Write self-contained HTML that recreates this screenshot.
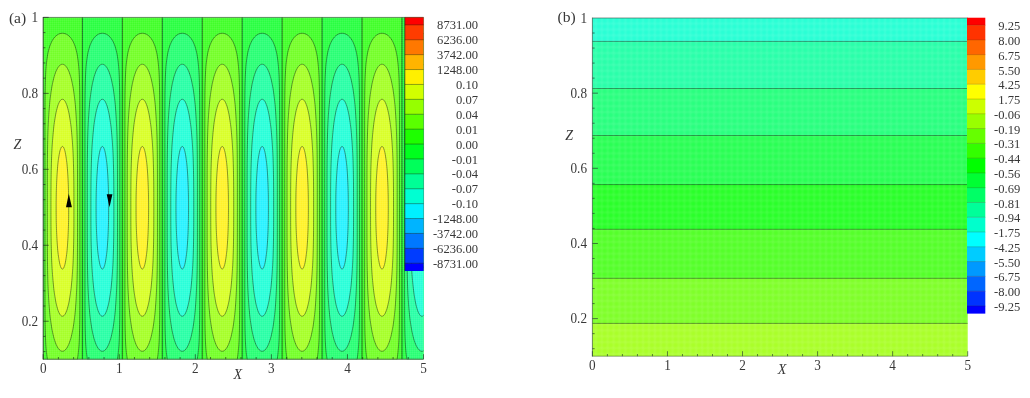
<!DOCTYPE html>
<html lang="en"><head><meta charset="utf-8"><title>Contour plots (a) and (b)</title>
<style>html,body{margin:0;padding:0;background:#fff;}body{width:1030px;height:398px;overflow:hidden;}svg{display:block;}text{font-family:"Liberation Serif", "DejaVu Serif", serif;fill:#383838;}</style></head><body>
<svg width="1030" height="398" viewBox="0 0 1030 398">
<rect x="0" y="0" width="1030" height="398" fill="#ffffff"/>
<defs>
<pattern id="meshA" width="2" height="2" patternUnits="userSpaceOnUse"><rect x="0" y="0" width="2" height="1" fill="#ffffff" fill-opacity="0.06"/><rect x="0" y="0" width="1" height="2" fill="#ffffff" fill-opacity="0.06"/></pattern>
<radialGradient id="dotB" cx="0.5" cy="0.5" r="0.72"><stop offset="0" stop-color="#ffffff" stop-opacity="0"/><stop offset="0.35" stop-color="#ffffff" stop-opacity="0.02"/><stop offset="1" stop-color="#ffffff" stop-opacity="0.15"/></radialGradient>
<pattern id="meshB" width="5.9" height="5.9" patternUnits="userSpaceOnUse"><rect x="0" y="0" width="5.9" height="5.9" fill="url(#dotB)"/></pattern>
<clipPath id="clipA"><rect x="43.20" y="17.40" width="380.30" height="341.80"/></clipPath>
<clipPath id="clipB"><rect x="592.40" y="18.00" width="375.30" height="338.20"/></clipPath>
</defs>
<g clip-path="url(#clipA)">
<rect x="41.95" y="16.40" width="40.95" height="343.80" fill="#41ff28"/>
<path d="M62.43,33.25L63.76,33.36L65.08,33.68L66.38,34.21L67.65,34.95L68.88,35.90L70.05,37.06L71.17,38.43L72.23,40.01L73.21,41.79L74.13,43.77L74.96,45.96L75.72,48.34L76.40,50.91L77.00,53.68L77.52,56.63L77.98,59.77L78.37,63.08L78.69,66.58L78.97,70.24L79.19,74.08L79.36,78.07L79.50,82.23L79.61,86.53L79.69,90.99L79.75,95.58L79.79,100.32L79.82,105.18L79.84,110.17L79.86,115.28L79.86,120.50L79.87,125.83L79.87,131.25L79.87,136.77L79.87,142.38L79.87,148.07L79.87,153.83L79.87,159.65L79.87,165.53L79.87,171.47L79.87,177.45L79.87,183.46L79.87,189.51L79.87,195.58L79.87,201.66L79.88,207.75L79.87,213.84L79.87,219.92L79.87,225.99L79.87,232.04L79.87,238.05L79.87,244.03L79.87,249.97L79.87,255.85L79.87,261.67L79.87,267.43L79.87,273.12L79.87,278.73L79.87,284.25L79.87,289.67L79.86,295.00L79.86,300.22L79.84,305.33L79.82,310.32L79.79,315.18L79.75,319.92L79.69,324.51L79.61,328.97L79.50,333.27L79.36,337.43L79.19,341.42L78.97,345.26L78.69,348.92L78.37,352.42L77.98,355.73L77.52,358.87L77.00,361.82L76.40,364.59L75.72,367.16L74.96,369.54L74.13,371.73L73.21,373.71L72.23,375.49L71.17,377.07L70.05,378.44L68.88,379.60L67.65,380.55L66.38,381.29L65.08,381.82L63.76,382.14L62.43,382.25L62.43,382.25L61.09,382.14L59.77,381.82L58.47,381.29L57.20,380.55L55.97,379.60L54.80,378.44L53.68,377.07L52.62,375.49L51.64,373.71L50.72,371.73L49.89,369.54L49.13,367.16L48.45,364.59L47.85,361.82L47.33,358.87L46.87,355.73L46.48,352.42L46.16,348.92L45.88,345.26L45.66,341.42L45.49,337.43L45.35,333.27L45.24,328.97L45.16,324.51L45.10,319.92L45.06,315.18L45.03,310.32L45.01,305.33L44.99,300.22L44.99,295.00L44.98,289.67L44.98,284.25L44.98,278.73L44.98,273.12L44.98,267.43L44.98,261.67L44.98,255.85L44.98,249.97L44.98,244.03L44.98,238.05L44.98,232.04L44.98,225.99L44.98,219.92L44.98,213.84L44.98,207.75L44.98,201.66L44.98,195.58L44.98,189.51L44.98,183.46L44.98,177.45L44.98,171.47L44.98,165.53L44.98,159.65L44.98,153.83L44.98,148.07L44.98,142.38L44.98,136.77L44.98,131.25L44.98,125.83L44.99,120.50L44.99,115.28L45.01,110.17L45.03,105.18L45.06,100.32L45.10,95.58L45.16,90.99L45.24,86.53L45.35,82.23L45.49,78.07L45.66,74.08L45.88,70.24L46.16,66.58L46.48,63.08L46.87,59.77L47.33,56.63L47.85,53.68L48.45,50.91L49.13,48.34L49.89,45.96L50.72,43.77L51.64,41.79L52.62,40.01L53.68,38.43L54.80,37.06L55.97,35.90L57.20,34.95L58.47,34.21L59.77,33.68L61.09,33.36L62.43,33.25Z" fill="#74ff28" stroke="#001800" stroke-opacity="0.52" stroke-width="0.90"/>
<path d="M62.43,64.25L63.16,64.34L63.89,64.60L64.62,65.04L65.35,65.65L66.06,66.43L66.76,67.39L67.45,68.51L68.13,69.81L68.79,71.27L69.43,72.90L70.06,74.70L70.66,76.66L71.24,78.77L71.79,81.05L72.32,83.48L72.82,86.06L73.30,88.78L73.75,91.66L74.17,94.67L74.56,97.82L74.93,101.11L75.27,104.52L75.58,108.07L75.86,111.73L76.11,115.51L76.34,119.40L76.54,123.40L76.72,127.51L76.88,131.71L77.01,136.00L77.12,140.38L77.22,144.84L77.30,149.38L77.36,153.99L77.41,158.67L77.45,163.41L77.48,168.20L77.50,173.03L77.51,177.91L77.52,182.83L77.52,187.78L77.52,192.75L77.52,197.74L77.52,202.74L77.53,207.75L77.52,212.76L77.52,217.76L77.52,222.75L77.52,227.72L77.52,232.67L77.51,237.59L77.50,242.47L77.48,247.30L77.45,252.09L77.41,256.83L77.36,261.51L77.30,266.12L77.22,270.66L77.12,275.12L77.01,279.50L76.88,283.79L76.72,287.99L76.54,292.10L76.34,296.10L76.11,299.99L75.86,303.77L75.58,307.43L75.27,310.98L74.93,314.39L74.56,317.68L74.17,320.83L73.75,323.84L73.30,326.72L72.82,329.44L72.32,332.02L71.79,334.45L71.24,336.73L70.66,338.84L70.06,340.80L69.43,342.60L68.79,344.23L68.13,345.69L67.45,346.99L66.76,348.11L66.06,349.07L65.35,349.85L64.62,350.46L63.89,350.90L63.16,351.16L62.43,351.25L62.43,351.25L61.69,351.16L60.96,350.90L60.23,350.46L59.50,349.85L58.79,349.07L58.09,348.11L57.40,346.99L56.72,345.69L56.06,344.23L55.42,342.60L54.79,340.80L54.19,338.84L53.61,336.73L53.06,334.45L52.53,332.02L52.03,329.44L51.55,326.72L51.10,323.84L50.68,320.83L50.29,317.68L49.92,314.39L49.58,310.98L49.27,307.43L48.99,303.77L48.74,299.99L48.51,296.10L48.31,292.10L48.13,287.99L47.97,283.79L47.84,279.50L47.73,275.12L47.63,270.66L47.55,266.12L47.49,261.51L47.44,256.83L47.40,252.09L47.37,247.30L47.35,242.47L47.34,237.59L47.33,232.67L47.33,227.72L47.33,222.75L47.33,217.76L47.33,212.76L47.33,207.75L47.33,202.74L47.33,197.74L47.33,192.75L47.33,187.78L47.33,182.83L47.34,177.91L47.35,173.03L47.37,168.20L47.40,163.41L47.44,158.67L47.49,153.99L47.55,149.38L47.63,144.84L47.73,140.38L47.84,136.00L47.97,131.71L48.13,127.51L48.31,123.40L48.51,119.40L48.74,115.51L48.99,111.73L49.27,108.07L49.58,104.52L49.92,101.11L50.29,97.82L50.68,94.67L51.10,91.66L51.55,88.78L52.03,86.06L52.53,83.48L53.06,81.05L53.61,78.77L54.19,76.66L54.79,74.70L55.42,72.90L56.06,71.27L56.72,69.81L57.40,68.51L58.09,67.39L58.79,66.43L59.50,65.65L60.23,65.04L60.96,64.60L61.69,64.34L62.43,64.25Z" fill="#a6ff28" stroke="#001800" stroke-opacity="0.52" stroke-width="0.90"/>
<path d="M62.43,99.25L62.90,99.32L63.37,99.51L63.85,99.84L64.32,100.31L64.78,100.90L65.24,101.62L65.70,102.47L66.15,103.45L66.59,104.56L67.02,105.79L67.45,107.15L67.86,108.63L68.27,110.23L68.66,111.95L69.05,113.79L69.42,115.74L69.77,117.80L70.12,119.97L70.45,122.25L70.76,124.63L71.07,127.12L71.35,129.70L71.62,132.38L71.88,135.15L72.11,138.01L72.34,140.95L72.54,143.98L72.73,147.08L72.91,150.25L73.07,153.50L73.21,156.81L73.34,160.19L73.45,163.62L73.55,167.11L73.64,170.64L73.71,174.22L73.77,177.84L73.82,181.50L73.85,185.19L73.88,188.91L73.90,192.65L73.91,196.41L73.92,200.18L73.92,203.96L73.93,207.75L73.92,211.54L73.92,215.32L73.91,219.09L73.90,222.85L73.88,226.59L73.85,230.31L73.82,234.00L73.77,237.66L73.71,241.28L73.64,244.86L73.55,248.39L73.45,251.88L73.34,255.31L73.21,258.69L73.07,262.00L72.91,265.25L72.73,268.42L72.54,271.52L72.34,274.55L72.11,277.49L71.88,280.35L71.62,283.12L71.35,285.80L71.07,288.38L70.76,290.87L70.45,293.25L70.12,295.53L69.77,297.70L69.42,299.76L69.05,301.71L68.66,303.55L68.27,305.27L67.86,306.87L67.45,308.35L67.02,309.71L66.59,310.94L66.15,312.05L65.70,313.03L65.24,313.88L64.78,314.60L64.32,315.19L63.85,315.66L63.37,315.99L62.90,316.18L62.43,316.25L62.43,316.25L61.95,316.18L61.48,315.99L61.00,315.66L60.53,315.19L60.07,314.60L59.61,313.88L59.15,313.03L58.70,312.05L58.26,310.94L57.83,309.71L57.40,308.35L56.99,306.87L56.58,305.27L56.19,303.55L55.80,301.71L55.43,299.76L55.08,297.70L54.73,295.53L54.40,293.25L54.09,290.87L53.78,288.38L53.50,285.80L53.23,283.12L52.97,280.35L52.74,277.49L52.51,274.55L52.31,271.52L52.12,268.42L51.94,265.25L51.78,262.00L51.64,258.69L51.51,255.31L51.40,251.88L51.30,248.39L51.21,244.86L51.14,241.28L51.08,237.66L51.03,234.00L51.00,230.31L50.97,226.59L50.95,222.85L50.94,219.09L50.93,215.32L50.93,211.54L50.93,207.75L50.93,203.96L50.93,200.18L50.94,196.41L50.95,192.65L50.97,188.91L51.00,185.19L51.03,181.50L51.08,177.84L51.14,174.22L51.21,170.64L51.30,167.11L51.40,163.62L51.51,160.19L51.64,156.81L51.78,153.50L51.94,150.25L52.12,147.08L52.31,143.98L52.51,140.95L52.74,138.01L52.97,135.15L53.23,132.38L53.50,129.70L53.78,127.12L54.09,124.63L54.40,122.25L54.73,119.97L55.08,117.80L55.43,115.74L55.80,113.79L56.19,111.95L56.58,110.23L56.99,108.63L57.40,107.15L57.83,105.79L58.26,104.56L58.70,103.45L59.15,102.47L59.61,101.62L60.07,100.90L60.53,100.31L61.00,99.84L61.48,99.51L61.95,99.32L62.43,99.25Z" fill="#d9ff28" stroke="#001800" stroke-opacity="0.52" stroke-width="0.90"/>
<path d="M62.43,146.45L62.65,146.49L62.88,146.60L63.11,146.79L63.34,147.05L63.56,147.38L63.79,147.79L64.01,148.27L64.23,148.82L64.45,149.45L64.66,150.15L64.87,150.91L65.08,151.75L65.28,152.65L65.48,153.63L65.68,154.66L65.87,155.76L66.06,156.93L66.24,158.16L66.42,159.44L66.59,160.79L66.75,162.20L66.91,163.65L67.07,165.17L67.21,166.73L67.35,168.35L67.49,170.01L67.61,171.72L67.73,173.47L67.85,175.27L67.95,177.10L68.05,178.97L68.14,180.88L68.23,182.82L68.30,184.79L68.37,186.78L68.43,188.81L68.49,190.85L68.54,192.92L68.58,195.01L68.61,197.11L68.63,199.22L68.65,201.34L68.67,203.47L68.67,205.61L68.68,207.75L68.67,209.89L68.67,212.03L68.65,214.16L68.63,216.28L68.61,218.39L68.58,220.49L68.54,222.58L68.49,224.65L68.43,226.69L68.37,228.72L68.30,230.71L68.23,232.68L68.14,234.62L68.05,236.53L67.95,238.40L67.85,240.23L67.73,242.03L67.61,243.78L67.49,245.49L67.35,247.15L67.21,248.77L67.07,250.33L66.91,251.85L66.75,253.30L66.59,254.71L66.42,256.06L66.24,257.34L66.06,258.57L65.87,259.74L65.68,260.84L65.48,261.87L65.28,262.85L65.08,263.75L64.87,264.59L64.66,265.35L64.45,266.05L64.23,266.68L64.01,267.23L63.79,267.71L63.56,268.12L63.34,268.45L63.11,268.71L62.88,268.90L62.65,269.01L62.43,269.05L62.43,269.05L62.20,269.01L61.97,268.90L61.74,268.71L61.51,268.45L61.29,268.12L61.06,267.71L60.84,267.23L60.62,266.68L60.40,266.05L60.19,265.35L59.98,264.59L59.77,263.75L59.57,262.85L59.37,261.87L59.17,260.84L58.98,259.74L58.79,258.57L58.61,257.34L58.43,256.06L58.26,254.71L58.10,253.30L57.94,251.85L57.78,250.33L57.64,248.77L57.50,247.15L57.36,245.49L57.24,243.78L57.12,242.03L57.00,240.23L56.90,238.40L56.80,236.53L56.71,234.62L56.62,232.68L56.55,230.71L56.48,228.72L56.42,226.69L56.36,224.65L56.31,222.58L56.27,220.49L56.24,218.39L56.22,216.28L56.20,214.16L56.18,212.03L56.18,209.89L56.18,207.75L56.18,205.61L56.18,203.47L56.20,201.34L56.22,199.22L56.24,197.11L56.27,195.01L56.31,192.92L56.36,190.85L56.42,188.81L56.48,186.78L56.55,184.79L56.62,182.82L56.71,180.88L56.80,178.97L56.90,177.10L57.00,175.27L57.12,173.47L57.24,171.72L57.36,170.01L57.50,168.35L57.64,166.73L57.78,165.17L57.94,163.65L58.10,162.20L58.26,160.79L58.43,159.44L58.61,158.16L58.79,156.93L58.98,155.76L59.17,154.66L59.37,153.63L59.57,152.65L59.77,151.75L59.98,150.91L60.19,150.15L60.40,149.45L60.62,148.82L60.84,148.27L61.06,147.79L61.29,147.38L61.51,147.05L61.74,146.79L61.97,146.60L62.20,146.49L62.43,146.45Z" fill="#fff228" stroke="#001800" stroke-opacity="0.52" stroke-width="0.90"/>
<rect x="81.90" y="16.40" width="40.95" height="343.80" fill="#28ff41"/>
<path d="M102.38,33.25L103.71,33.36L105.03,33.68L106.33,34.21L107.60,34.95L108.83,35.90L110.00,37.06L111.12,38.43L112.18,40.01L113.16,41.79L114.08,43.77L114.91,45.96L115.67,48.34L116.35,50.91L116.95,53.68L117.47,56.63L117.93,59.77L118.32,63.08L118.64,66.58L118.92,70.24L119.14,74.08L119.31,78.07L119.45,82.23L119.56,86.53L119.64,90.99L119.70,95.58L119.74,100.32L119.77,105.18L119.79,110.17L119.81,115.28L119.81,120.50L119.82,125.83L119.82,131.25L119.82,136.77L119.82,142.38L119.82,148.07L119.82,153.83L119.82,159.65L119.82,165.53L119.82,171.47L119.82,177.45L119.82,183.46L119.82,189.51L119.82,195.58L119.82,201.66L119.83,207.75L119.82,213.84L119.82,219.92L119.82,225.99L119.82,232.04L119.82,238.05L119.82,244.03L119.82,249.97L119.82,255.85L119.82,261.67L119.82,267.43L119.82,273.12L119.82,278.73L119.82,284.25L119.82,289.67L119.81,295.00L119.81,300.22L119.79,305.33L119.77,310.32L119.74,315.18L119.70,319.92L119.64,324.51L119.56,328.97L119.45,333.27L119.31,337.43L119.14,341.42L118.92,345.26L118.64,348.92L118.32,352.42L117.93,355.73L117.47,358.87L116.95,361.82L116.35,364.59L115.67,367.16L114.91,369.54L114.08,371.73L113.16,373.71L112.18,375.49L111.12,377.07L110.00,378.44L108.83,379.60L107.60,380.55L106.33,381.29L105.03,381.82L103.71,382.14L102.38,382.25L102.38,382.25L101.04,382.14L99.72,381.82L98.42,381.29L97.15,380.55L95.92,379.60L94.75,378.44L93.63,377.07L92.57,375.49L91.59,373.71L90.67,371.73L89.84,369.54L89.08,367.16L88.40,364.59L87.80,361.82L87.28,358.87L86.82,355.73L86.43,352.42L86.11,348.92L85.83,345.26L85.61,341.42L85.44,337.43L85.30,333.27L85.19,328.97L85.11,324.51L85.05,319.92L85.01,315.18L84.98,310.32L84.96,305.33L84.94,300.22L84.94,295.00L84.93,289.67L84.93,284.25L84.93,278.73L84.93,273.12L84.93,267.43L84.93,261.67L84.93,255.85L84.93,249.97L84.93,244.03L84.93,238.05L84.93,232.04L84.93,225.99L84.93,219.92L84.93,213.84L84.92,207.75L84.93,201.66L84.93,195.58L84.93,189.51L84.93,183.46L84.93,177.45L84.93,171.47L84.93,165.53L84.93,159.65L84.93,153.83L84.93,148.07L84.93,142.38L84.93,136.77L84.93,131.25L84.93,125.83L84.94,120.50L84.94,115.28L84.96,110.17L84.98,105.18L85.01,100.32L85.05,95.58L85.11,90.99L85.19,86.53L85.30,82.23L85.44,78.07L85.61,74.08L85.83,70.24L86.11,66.58L86.43,63.08L86.82,59.77L87.28,56.63L87.80,53.68L88.40,50.91L89.08,48.34L89.84,45.96L90.67,43.77L91.59,41.79L92.57,40.01L93.63,38.43L94.75,37.06L95.92,35.90L97.15,34.95L98.42,34.21L99.72,33.68L101.04,33.36L102.38,33.25Z" fill="#28ff74" stroke="#001800" stroke-opacity="0.52" stroke-width="0.90"/>
<path d="M102.38,64.25L103.11,64.34L103.84,64.60L104.57,65.04L105.30,65.65L106.01,66.43L106.71,67.39L107.40,68.51L108.08,69.81L108.74,71.27L109.38,72.90L110.01,74.70L110.61,76.66L111.19,78.77L111.74,81.05L112.27,83.48L112.77,86.06L113.25,88.78L113.70,91.66L114.12,94.67L114.51,97.82L114.88,101.11L115.22,104.52L115.53,108.07L115.81,111.73L116.06,115.51L116.29,119.40L116.49,123.40L116.67,127.51L116.83,131.71L116.96,136.00L117.07,140.38L117.17,144.84L117.25,149.38L117.31,153.99L117.36,158.67L117.40,163.41L117.43,168.20L117.45,173.03L117.46,177.91L117.47,182.83L117.47,187.78L117.47,192.75L117.47,197.74L117.47,202.74L117.47,207.75L117.47,212.76L117.47,217.76L117.47,222.75L117.47,227.72L117.47,232.67L117.46,237.59L117.45,242.47L117.43,247.30L117.40,252.09L117.36,256.83L117.31,261.51L117.25,266.12L117.17,270.66L117.07,275.12L116.96,279.50L116.83,283.79L116.67,287.99L116.49,292.10L116.29,296.10L116.06,299.99L115.81,303.77L115.53,307.43L115.22,310.98L114.88,314.39L114.51,317.68L114.12,320.83L113.70,323.84L113.25,326.72L112.77,329.44L112.27,332.02L111.74,334.45L111.19,336.73L110.61,338.84L110.01,340.80L109.38,342.60L108.74,344.23L108.08,345.69L107.40,346.99L106.71,348.11L106.01,349.07L105.30,349.85L104.57,350.46L103.84,350.90L103.11,351.16L102.38,351.25L102.38,351.25L101.64,351.16L100.91,350.90L100.18,350.46L99.45,349.85L98.74,349.07L98.04,348.11L97.35,346.99L96.67,345.69L96.01,344.23L95.37,342.60L94.74,340.80L94.14,338.84L93.56,336.73L93.01,334.45L92.48,332.02L91.98,329.44L91.50,326.72L91.05,323.84L90.63,320.83L90.24,317.68L89.87,314.39L89.53,310.98L89.22,307.43L88.94,303.77L88.69,299.99L88.46,296.10L88.26,292.10L88.08,287.99L87.92,283.79L87.79,279.50L87.68,275.12L87.58,270.66L87.50,266.12L87.44,261.51L87.39,256.83L87.35,252.09L87.32,247.30L87.30,242.47L87.29,237.59L87.28,232.67L87.28,227.72L87.28,222.75L87.28,217.76L87.28,212.76L87.28,207.75L87.28,202.74L87.28,197.74L87.28,192.75L87.28,187.78L87.28,182.83L87.29,177.91L87.30,173.03L87.32,168.20L87.35,163.41L87.39,158.67L87.44,153.99L87.50,149.38L87.58,144.84L87.68,140.38L87.79,136.00L87.92,131.71L88.08,127.51L88.26,123.40L88.46,119.40L88.69,115.51L88.94,111.73L89.22,108.07L89.53,104.52L89.87,101.11L90.24,97.82L90.63,94.67L91.05,91.66L91.50,88.78L91.98,86.06L92.48,83.48L93.01,81.05L93.56,78.77L94.14,76.66L94.74,74.70L95.37,72.90L96.01,71.27L96.67,69.81L97.35,68.51L98.04,67.39L98.74,66.43L99.45,65.65L100.18,65.04L100.91,64.60L101.64,64.34L102.38,64.25Z" fill="#28ffa6" stroke="#001800" stroke-opacity="0.52" stroke-width="0.90"/>
<path d="M102.38,99.25L102.85,99.32L103.32,99.51L103.80,99.84L104.27,100.31L104.73,100.90L105.19,101.62L105.65,102.47L106.10,103.45L106.54,104.56L106.97,105.79L107.40,107.15L107.81,108.63L108.22,110.23L108.61,111.95L109.00,113.79L109.37,115.74L109.72,117.80L110.07,119.97L110.40,122.25L110.71,124.63L111.02,127.12L111.30,129.70L111.57,132.38L111.83,135.15L112.06,138.01L112.29,140.95L112.49,143.98L112.68,147.08L112.86,150.25L113.02,153.50L113.16,156.81L113.29,160.19L113.40,163.62L113.50,167.11L113.59,170.64L113.66,174.22L113.72,177.84L113.77,181.50L113.80,185.19L113.83,188.91L113.85,192.65L113.86,196.41L113.87,200.18L113.87,203.96L113.88,207.75L113.87,211.54L113.87,215.32L113.86,219.09L113.85,222.85L113.83,226.59L113.80,230.31L113.77,234.00L113.72,237.66L113.66,241.28L113.59,244.86L113.50,248.39L113.40,251.88L113.29,255.31L113.16,258.69L113.02,262.00L112.86,265.25L112.68,268.42L112.49,271.52L112.29,274.55L112.06,277.49L111.83,280.35L111.57,283.12L111.30,285.80L111.02,288.38L110.71,290.87L110.40,293.25L110.07,295.53L109.72,297.70L109.37,299.76L109.00,301.71L108.61,303.55L108.22,305.27L107.81,306.87L107.40,308.35L106.97,309.71L106.54,310.94L106.10,312.05L105.65,313.03L105.19,313.88L104.73,314.60L104.27,315.19L103.80,315.66L103.32,315.99L102.85,316.18L102.38,316.25L102.38,316.25L101.90,316.18L101.43,315.99L100.95,315.66L100.48,315.19L100.02,314.60L99.56,313.88L99.10,313.03L98.65,312.05L98.21,310.94L97.78,309.71L97.35,308.35L96.94,306.87L96.53,305.27L96.14,303.55L95.75,301.71L95.38,299.76L95.03,297.70L94.68,295.53L94.35,293.25L94.04,290.87L93.73,288.38L93.45,285.80L93.18,283.12L92.92,280.35L92.69,277.49L92.46,274.55L92.26,271.52L92.07,268.42L91.89,265.25L91.73,262.00L91.59,258.69L91.46,255.31L91.35,251.88L91.25,248.39L91.16,244.86L91.09,241.28L91.03,237.66L90.98,234.00L90.95,230.31L90.92,226.59L90.90,222.85L90.89,219.09L90.88,215.32L90.88,211.54L90.88,207.75L90.88,203.96L90.88,200.18L90.89,196.41L90.90,192.65L90.92,188.91L90.95,185.19L90.98,181.50L91.03,177.84L91.09,174.22L91.16,170.64L91.25,167.11L91.35,163.62L91.46,160.19L91.59,156.81L91.73,153.50L91.89,150.25L92.07,147.08L92.26,143.98L92.46,140.95L92.69,138.01L92.92,135.15L93.18,132.38L93.45,129.70L93.73,127.12L94.04,124.63L94.35,122.25L94.68,119.97L95.03,117.80L95.38,115.74L95.75,113.79L96.14,111.95L96.53,110.23L96.94,108.63L97.35,107.15L97.78,105.79L98.21,104.56L98.65,103.45L99.10,102.47L99.56,101.62L100.02,100.90L100.48,100.31L100.95,99.84L101.43,99.51L101.90,99.32L102.38,99.25Z" fill="#28ffd9" stroke="#001800" stroke-opacity="0.52" stroke-width="0.90"/>
<path d="M102.38,146.45L102.60,146.49L102.83,146.60L103.06,146.79L103.29,147.05L103.51,147.38L103.74,147.79L103.96,148.27L104.18,148.82L104.40,149.45L104.61,150.15L104.82,150.91L105.03,151.75L105.23,152.65L105.43,153.63L105.63,154.66L105.82,155.76L106.01,156.93L106.19,158.16L106.37,159.44L106.54,160.79L106.70,162.20L106.86,163.65L107.02,165.17L107.16,166.73L107.30,168.35L107.44,170.01L107.56,171.72L107.68,173.47L107.80,175.27L107.90,177.10L108.00,178.97L108.09,180.88L108.18,182.82L108.25,184.79L108.32,186.78L108.38,188.81L108.44,190.85L108.49,192.92L108.53,195.01L108.56,197.11L108.58,199.22L108.60,201.34L108.62,203.47L108.62,205.61L108.62,207.75L108.62,209.89L108.62,212.03L108.60,214.16L108.58,216.28L108.56,218.39L108.53,220.49L108.49,222.58L108.44,224.65L108.38,226.69L108.32,228.72L108.25,230.71L108.18,232.68L108.09,234.62L108.00,236.53L107.90,238.40L107.80,240.23L107.68,242.03L107.56,243.78L107.44,245.49L107.30,247.15L107.16,248.77L107.02,250.33L106.86,251.85L106.70,253.30L106.54,254.71L106.37,256.06L106.19,257.34L106.01,258.57L105.82,259.74L105.63,260.84L105.43,261.87L105.23,262.85L105.03,263.75L104.82,264.59L104.61,265.35L104.40,266.05L104.18,266.68L103.96,267.23L103.74,267.71L103.51,268.12L103.29,268.45L103.06,268.71L102.83,268.90L102.60,269.01L102.38,269.05L102.38,269.05L102.15,269.01L101.92,268.90L101.69,268.71L101.46,268.45L101.24,268.12L101.01,267.71L100.79,267.23L100.57,266.68L100.35,266.05L100.14,265.35L99.93,264.59L99.72,263.75L99.52,262.85L99.32,261.87L99.12,260.84L98.93,259.74L98.74,258.57L98.56,257.34L98.38,256.06L98.21,254.71L98.05,253.30L97.89,251.85L97.73,250.33L97.59,248.77L97.45,247.15L97.31,245.49L97.19,243.78L97.07,242.03L96.95,240.23L96.85,238.40L96.75,236.53L96.66,234.62L96.57,232.68L96.50,230.71L96.43,228.72L96.37,226.69L96.31,224.65L96.26,222.58L96.22,220.49L96.19,218.39L96.17,216.28L96.15,214.16L96.13,212.03L96.13,209.89L96.12,207.75L96.13,205.61L96.13,203.47L96.15,201.34L96.17,199.22L96.19,197.11L96.22,195.01L96.26,192.92L96.31,190.85L96.37,188.81L96.43,186.78L96.50,184.79L96.57,182.82L96.66,180.88L96.75,178.97L96.85,177.10L96.95,175.27L97.07,173.47L97.19,171.72L97.31,170.01L97.45,168.35L97.59,166.73L97.73,165.17L97.89,163.65L98.05,162.20L98.21,160.79L98.38,159.44L98.56,158.16L98.74,156.93L98.93,155.76L99.12,154.66L99.32,153.63L99.52,152.65L99.72,151.75L99.93,150.91L100.14,150.15L100.35,149.45L100.57,148.82L100.79,148.27L101.01,147.79L101.24,147.38L101.46,147.05L101.69,146.79L101.92,146.60L102.15,146.49L102.38,146.45Z" fill="#28f2ff" stroke="#001800" stroke-opacity="0.52" stroke-width="0.90"/>
<rect x="121.85" y="16.40" width="40.95" height="343.80" fill="#41ff28"/>
<path d="M142.33,33.25L143.66,33.36L144.98,33.68L146.28,34.21L147.55,34.95L148.78,35.90L149.95,37.06L151.07,38.43L152.13,40.01L153.11,41.79L154.03,43.77L154.86,45.96L155.62,48.34L156.30,50.91L156.90,53.68L157.42,56.63L157.88,59.77L158.27,63.08L158.59,66.58L158.87,70.24L159.09,74.08L159.26,78.07L159.40,82.23L159.51,86.53L159.59,90.99L159.65,95.58L159.69,100.32L159.72,105.18L159.74,110.17L159.76,115.28L159.76,120.50L159.77,125.83L159.77,131.25L159.77,136.77L159.77,142.38L159.77,148.07L159.77,153.83L159.77,159.65L159.77,165.53L159.77,171.47L159.77,177.45L159.77,183.46L159.77,189.51L159.77,195.58L159.77,201.66L159.78,207.75L159.77,213.84L159.77,219.92L159.77,225.99L159.77,232.04L159.77,238.05L159.77,244.03L159.77,249.97L159.77,255.85L159.77,261.67L159.77,267.43L159.77,273.12L159.77,278.73L159.77,284.25L159.77,289.67L159.76,295.00L159.76,300.22L159.74,305.33L159.72,310.32L159.69,315.18L159.65,319.92L159.59,324.51L159.51,328.97L159.40,333.27L159.26,337.43L159.09,341.42L158.87,345.26L158.59,348.92L158.27,352.42L157.88,355.73L157.42,358.87L156.90,361.82L156.30,364.59L155.62,367.16L154.86,369.54L154.03,371.73L153.11,373.71L152.13,375.49L151.07,377.07L149.95,378.44L148.78,379.60L147.55,380.55L146.28,381.29L144.98,381.82L143.66,382.14L142.33,382.25L142.33,382.25L140.99,382.14L139.67,381.82L138.37,381.29L137.10,380.55L135.87,379.60L134.70,378.44L133.58,377.07L132.52,375.49L131.54,373.71L130.62,371.73L129.79,369.54L129.03,367.16L128.35,364.59L127.75,361.82L127.23,358.87L126.77,355.73L126.38,352.42L126.06,348.92L125.78,345.26L125.56,341.42L125.39,337.43L125.25,333.27L125.14,328.97L125.06,324.51L125.00,319.92L124.96,315.18L124.93,310.32L124.91,305.33L124.89,300.22L124.89,295.00L124.88,289.67L124.88,284.25L124.88,278.73L124.88,273.12L124.88,267.43L124.88,261.67L124.88,255.85L124.88,249.97L124.88,244.03L124.88,238.05L124.88,232.04L124.88,225.99L124.88,219.92L124.88,213.84L124.88,207.75L124.88,201.66L124.88,195.58L124.88,189.51L124.88,183.46L124.88,177.45L124.88,171.47L124.88,165.53L124.88,159.65L124.88,153.83L124.88,148.07L124.88,142.38L124.88,136.77L124.88,131.25L124.88,125.83L124.89,120.50L124.89,115.28L124.91,110.17L124.93,105.18L124.96,100.32L125.00,95.58L125.06,90.99L125.14,86.53L125.25,82.23L125.39,78.07L125.56,74.08L125.78,70.24L126.06,66.58L126.38,63.08L126.77,59.77L127.23,56.63L127.75,53.68L128.35,50.91L129.03,48.34L129.79,45.96L130.62,43.77L131.54,41.79L132.52,40.01L133.58,38.43L134.70,37.06L135.87,35.90L137.10,34.95L138.37,34.21L139.67,33.68L140.99,33.36L142.33,33.25Z" fill="#74ff28" stroke="#001800" stroke-opacity="0.52" stroke-width="0.90"/>
<path d="M142.33,64.25L143.06,64.34L143.79,64.60L144.52,65.04L145.25,65.65L145.96,66.43L146.66,67.39L147.35,68.51L148.03,69.81L148.69,71.27L149.33,72.90L149.96,74.70L150.56,76.66L151.14,78.77L151.69,81.05L152.22,83.48L152.72,86.06L153.20,88.78L153.65,91.66L154.07,94.67L154.46,97.82L154.83,101.11L155.17,104.52L155.48,108.07L155.76,111.73L156.01,115.51L156.24,119.40L156.44,123.40L156.62,127.51L156.78,131.71L156.91,136.00L157.02,140.38L157.12,144.84L157.20,149.38L157.26,153.99L157.31,158.67L157.35,163.41L157.38,168.20L157.40,173.03L157.41,177.91L157.42,182.83L157.42,187.78L157.42,192.75L157.42,197.74L157.42,202.74L157.43,207.75L157.42,212.76L157.42,217.76L157.42,222.75L157.42,227.72L157.42,232.67L157.41,237.59L157.40,242.47L157.38,247.30L157.35,252.09L157.31,256.83L157.26,261.51L157.20,266.12L157.12,270.66L157.02,275.12L156.91,279.50L156.78,283.79L156.62,287.99L156.44,292.10L156.24,296.10L156.01,299.99L155.76,303.77L155.48,307.43L155.17,310.98L154.83,314.39L154.46,317.68L154.07,320.83L153.65,323.84L153.20,326.72L152.72,329.44L152.22,332.02L151.69,334.45L151.14,336.73L150.56,338.84L149.96,340.80L149.33,342.60L148.69,344.23L148.03,345.69L147.35,346.99L146.66,348.11L145.96,349.07L145.25,349.85L144.52,350.46L143.79,350.90L143.06,351.16L142.33,351.25L142.33,351.25L141.59,351.16L140.86,350.90L140.13,350.46L139.40,349.85L138.69,349.07L137.99,348.11L137.30,346.99L136.62,345.69L135.96,344.23L135.32,342.60L134.69,340.80L134.09,338.84L133.51,336.73L132.96,334.45L132.43,332.02L131.93,329.44L131.45,326.72L131.00,323.84L130.58,320.83L130.19,317.68L129.82,314.39L129.48,310.98L129.17,307.43L128.89,303.77L128.64,299.99L128.41,296.10L128.21,292.10L128.03,287.99L127.87,283.79L127.74,279.50L127.63,275.12L127.53,270.66L127.45,266.12L127.39,261.51L127.34,256.83L127.30,252.09L127.27,247.30L127.25,242.47L127.24,237.59L127.23,232.67L127.23,227.72L127.23,222.75L127.23,217.76L127.23,212.76L127.23,207.75L127.23,202.74L127.23,197.74L127.23,192.75L127.23,187.78L127.23,182.83L127.24,177.91L127.25,173.03L127.27,168.20L127.30,163.41L127.34,158.67L127.39,153.99L127.45,149.38L127.53,144.84L127.63,140.38L127.74,136.00L127.87,131.71L128.03,127.51L128.21,123.40L128.41,119.40L128.64,115.51L128.89,111.73L129.17,108.07L129.48,104.52L129.82,101.11L130.19,97.82L130.58,94.67L131.00,91.66L131.45,88.78L131.93,86.06L132.43,83.48L132.96,81.05L133.51,78.77L134.09,76.66L134.69,74.70L135.32,72.90L135.96,71.27L136.62,69.81L137.30,68.51L137.99,67.39L138.69,66.43L139.40,65.65L140.13,65.04L140.86,64.60L141.59,64.34L142.33,64.25Z" fill="#a6ff28" stroke="#001800" stroke-opacity="0.52" stroke-width="0.90"/>
<path d="M142.33,99.25L142.80,99.32L143.27,99.51L143.75,99.84L144.22,100.31L144.68,100.90L145.14,101.62L145.60,102.47L146.05,103.45L146.49,104.56L146.92,105.79L147.35,107.15L147.76,108.63L148.17,110.23L148.56,111.95L148.95,113.79L149.32,115.74L149.67,117.80L150.02,119.97L150.35,122.25L150.66,124.63L150.97,127.12L151.25,129.70L151.52,132.38L151.78,135.15L152.01,138.01L152.24,140.95L152.44,143.98L152.63,147.08L152.81,150.25L152.97,153.50L153.11,156.81L153.24,160.19L153.35,163.62L153.45,167.11L153.54,170.64L153.61,174.22L153.67,177.84L153.72,181.50L153.75,185.19L153.78,188.91L153.80,192.65L153.81,196.41L153.82,200.18L153.82,203.96L153.83,207.75L153.82,211.54L153.82,215.32L153.81,219.09L153.80,222.85L153.78,226.59L153.75,230.31L153.72,234.00L153.67,237.66L153.61,241.28L153.54,244.86L153.45,248.39L153.35,251.88L153.24,255.31L153.11,258.69L152.97,262.00L152.81,265.25L152.63,268.42L152.44,271.52L152.24,274.55L152.01,277.49L151.78,280.35L151.52,283.12L151.25,285.80L150.97,288.38L150.66,290.87L150.35,293.25L150.02,295.53L149.67,297.70L149.32,299.76L148.95,301.71L148.56,303.55L148.17,305.27L147.76,306.87L147.35,308.35L146.92,309.71L146.49,310.94L146.05,312.05L145.60,313.03L145.14,313.88L144.68,314.60L144.22,315.19L143.75,315.66L143.27,315.99L142.80,316.18L142.33,316.25L142.33,316.25L141.85,316.18L141.38,315.99L140.90,315.66L140.43,315.19L139.97,314.60L139.51,313.88L139.05,313.03L138.60,312.05L138.16,310.94L137.73,309.71L137.30,308.35L136.89,306.87L136.48,305.27L136.09,303.55L135.70,301.71L135.33,299.76L134.98,297.70L134.63,295.53L134.30,293.25L133.99,290.87L133.68,288.38L133.40,285.80L133.13,283.12L132.87,280.35L132.64,277.49L132.41,274.55L132.21,271.52L132.02,268.42L131.84,265.25L131.68,262.00L131.54,258.69L131.41,255.31L131.30,251.88L131.20,248.39L131.11,244.86L131.04,241.28L130.98,237.66L130.93,234.00L130.90,230.31L130.87,226.59L130.85,222.85L130.84,219.09L130.83,215.32L130.83,211.54L130.83,207.75L130.83,203.96L130.83,200.18L130.84,196.41L130.85,192.65L130.87,188.91L130.90,185.19L130.93,181.50L130.98,177.84L131.04,174.22L131.11,170.64L131.20,167.11L131.30,163.62L131.41,160.19L131.54,156.81L131.68,153.50L131.84,150.25L132.02,147.08L132.21,143.98L132.41,140.95L132.64,138.01L132.87,135.15L133.13,132.38L133.40,129.70L133.68,127.12L133.99,124.63L134.30,122.25L134.63,119.97L134.98,117.80L135.33,115.74L135.70,113.79L136.09,111.95L136.48,110.23L136.89,108.63L137.30,107.15L137.73,105.79L138.16,104.56L138.60,103.45L139.05,102.47L139.51,101.62L139.97,100.90L140.43,100.31L140.90,99.84L141.38,99.51L141.85,99.32L142.33,99.25Z" fill="#d9ff28" stroke="#001800" stroke-opacity="0.52" stroke-width="0.90"/>
<path d="M142.33,146.45L142.55,146.49L142.78,146.60L143.01,146.79L143.24,147.05L143.46,147.38L143.69,147.79L143.91,148.27L144.13,148.82L144.35,149.45L144.56,150.15L144.77,150.91L144.98,151.75L145.18,152.65L145.38,153.63L145.58,154.66L145.77,155.76L145.96,156.93L146.14,158.16L146.32,159.44L146.49,160.79L146.65,162.20L146.81,163.65L146.97,165.17L147.11,166.73L147.25,168.35L147.39,170.01L147.51,171.72L147.63,173.47L147.75,175.27L147.85,177.10L147.95,178.97L148.04,180.88L148.13,182.82L148.20,184.79L148.27,186.78L148.33,188.81L148.39,190.85L148.44,192.92L148.48,195.01L148.51,197.11L148.53,199.22L148.55,201.34L148.57,203.47L148.57,205.61L148.58,207.75L148.57,209.89L148.57,212.03L148.55,214.16L148.53,216.28L148.51,218.39L148.48,220.49L148.44,222.58L148.39,224.65L148.33,226.69L148.27,228.72L148.20,230.71L148.13,232.68L148.04,234.62L147.95,236.53L147.85,238.40L147.75,240.23L147.63,242.03L147.51,243.78L147.39,245.49L147.25,247.15L147.11,248.77L146.97,250.33L146.81,251.85L146.65,253.30L146.49,254.71L146.32,256.06L146.14,257.34L145.96,258.57L145.77,259.74L145.58,260.84L145.38,261.87L145.18,262.85L144.98,263.75L144.77,264.59L144.56,265.35L144.35,266.05L144.13,266.68L143.91,267.23L143.69,267.71L143.46,268.12L143.24,268.45L143.01,268.71L142.78,268.90L142.55,269.01L142.33,269.05L142.33,269.05L142.10,269.01L141.87,268.90L141.64,268.71L141.41,268.45L141.19,268.12L140.96,267.71L140.74,267.23L140.52,266.68L140.30,266.05L140.09,265.35L139.88,264.59L139.67,263.75L139.47,262.85L139.27,261.87L139.07,260.84L138.88,259.74L138.69,258.57L138.51,257.34L138.33,256.06L138.16,254.71L138.00,253.30L137.84,251.85L137.68,250.33L137.54,248.77L137.40,247.15L137.26,245.49L137.14,243.78L137.02,242.03L136.90,240.23L136.80,238.40L136.70,236.53L136.61,234.62L136.52,232.68L136.45,230.71L136.38,228.72L136.32,226.69L136.26,224.65L136.21,222.58L136.17,220.49L136.14,218.39L136.12,216.28L136.10,214.16L136.08,212.03L136.08,209.89L136.08,207.75L136.08,205.61L136.08,203.47L136.10,201.34L136.12,199.22L136.14,197.11L136.17,195.01L136.21,192.92L136.26,190.85L136.32,188.81L136.38,186.78L136.45,184.79L136.52,182.82L136.61,180.88L136.70,178.97L136.80,177.10L136.90,175.27L137.02,173.47L137.14,171.72L137.26,170.01L137.40,168.35L137.54,166.73L137.68,165.17L137.84,163.65L138.00,162.20L138.16,160.79L138.33,159.44L138.51,158.16L138.69,156.93L138.88,155.76L139.07,154.66L139.27,153.63L139.47,152.65L139.67,151.75L139.88,150.91L140.09,150.15L140.30,149.45L140.52,148.82L140.74,148.27L140.96,147.79L141.19,147.38L141.41,147.05L141.64,146.79L141.87,146.60L142.10,146.49L142.33,146.45Z" fill="#fff228" stroke="#001800" stroke-opacity="0.52" stroke-width="0.90"/>
<rect x="161.80" y="16.40" width="40.95" height="343.80" fill="#28ff41"/>
<path d="M182.28,33.25L183.61,33.36L184.93,33.68L186.23,34.21L187.50,34.95L188.73,35.90L189.90,37.06L191.02,38.43L192.08,40.01L193.06,41.79L193.98,43.77L194.81,45.96L195.57,48.34L196.25,50.91L196.85,53.68L197.37,56.63L197.83,59.77L198.22,63.08L198.54,66.58L198.82,70.24L199.04,74.08L199.21,78.07L199.35,82.23L199.46,86.53L199.54,90.99L199.60,95.58L199.64,100.32L199.67,105.18L199.69,110.17L199.71,115.28L199.71,120.50L199.72,125.83L199.72,131.25L199.72,136.77L199.72,142.38L199.72,148.07L199.72,153.83L199.72,159.65L199.72,165.53L199.72,171.47L199.72,177.45L199.72,183.46L199.72,189.51L199.72,195.58L199.72,201.66L199.72,207.75L199.72,213.84L199.72,219.92L199.72,225.99L199.72,232.04L199.72,238.05L199.72,244.03L199.72,249.97L199.72,255.85L199.72,261.67L199.72,267.43L199.72,273.12L199.72,278.73L199.72,284.25L199.72,289.67L199.71,295.00L199.71,300.22L199.69,305.33L199.67,310.32L199.64,315.18L199.60,319.92L199.54,324.51L199.46,328.97L199.35,333.27L199.21,337.43L199.04,341.42L198.82,345.26L198.54,348.92L198.22,352.42L197.83,355.73L197.37,358.87L196.85,361.82L196.25,364.59L195.57,367.16L194.81,369.54L193.98,371.73L193.06,373.71L192.08,375.49L191.02,377.07L189.90,378.44L188.73,379.60L187.50,380.55L186.23,381.29L184.93,381.82L183.61,382.14L182.28,382.25L182.28,382.25L180.94,382.14L179.62,381.82L178.32,381.29L177.05,380.55L175.82,379.60L174.65,378.44L173.53,377.07L172.47,375.49L171.49,373.71L170.57,371.73L169.74,369.54L168.98,367.16L168.30,364.59L167.70,361.82L167.18,358.87L166.72,355.73L166.33,352.42L166.01,348.92L165.73,345.26L165.51,341.42L165.34,337.43L165.20,333.27L165.09,328.97L165.01,324.51L164.95,319.92L164.91,315.18L164.88,310.32L164.86,305.33L164.84,300.22L164.84,295.00L164.83,289.67L164.83,284.25L164.83,278.73L164.83,273.12L164.83,267.43L164.83,261.67L164.83,255.85L164.83,249.97L164.83,244.03L164.83,238.05L164.83,232.04L164.83,225.99L164.83,219.92L164.83,213.84L164.83,207.75L164.83,201.66L164.83,195.58L164.83,189.51L164.83,183.46L164.83,177.45L164.83,171.47L164.83,165.53L164.83,159.65L164.83,153.83L164.83,148.07L164.83,142.38L164.83,136.77L164.83,131.25L164.83,125.83L164.84,120.50L164.84,115.28L164.86,110.17L164.88,105.18L164.91,100.32L164.95,95.58L165.01,90.99L165.09,86.53L165.20,82.23L165.34,78.07L165.51,74.08L165.73,70.24L166.01,66.58L166.33,63.08L166.72,59.77L167.18,56.63L167.70,53.68L168.30,50.91L168.98,48.34L169.74,45.96L170.57,43.77L171.49,41.79L172.47,40.01L173.53,38.43L174.65,37.06L175.82,35.90L177.05,34.95L178.32,34.21L179.62,33.68L180.94,33.36L182.28,33.25Z" fill="#28ff74" stroke="#001800" stroke-opacity="0.52" stroke-width="0.90"/>
<path d="M182.28,64.25L183.01,64.34L183.74,64.60L184.47,65.04L185.20,65.65L185.91,66.43L186.61,67.39L187.30,68.51L187.98,69.81L188.64,71.27L189.28,72.90L189.91,74.70L190.51,76.66L191.09,78.77L191.64,81.05L192.17,83.48L192.67,86.06L193.15,88.78L193.60,91.66L194.02,94.67L194.41,97.82L194.78,101.11L195.12,104.52L195.43,108.07L195.71,111.73L195.96,115.51L196.19,119.40L196.39,123.40L196.57,127.51L196.73,131.71L196.86,136.00L196.97,140.38L197.07,144.84L197.15,149.38L197.21,153.99L197.26,158.67L197.30,163.41L197.33,168.20L197.35,173.03L197.36,177.91L197.37,182.83L197.37,187.78L197.37,192.75L197.37,197.74L197.37,202.74L197.38,207.75L197.37,212.76L197.37,217.76L197.37,222.75L197.37,227.72L197.37,232.67L197.36,237.59L197.35,242.47L197.33,247.30L197.30,252.09L197.26,256.83L197.21,261.51L197.15,266.12L197.07,270.66L196.97,275.12L196.86,279.50L196.73,283.79L196.57,287.99L196.39,292.10L196.19,296.10L195.96,299.99L195.71,303.77L195.43,307.43L195.12,310.98L194.78,314.39L194.41,317.68L194.02,320.83L193.60,323.84L193.15,326.72L192.67,329.44L192.17,332.02L191.64,334.45L191.09,336.73L190.51,338.84L189.91,340.80L189.28,342.60L188.64,344.23L187.98,345.69L187.30,346.99L186.61,348.11L185.91,349.07L185.20,349.85L184.47,350.46L183.74,350.90L183.01,351.16L182.28,351.25L182.28,351.25L181.54,351.16L180.81,350.90L180.08,350.46L179.35,349.85L178.64,349.07L177.94,348.11L177.25,346.99L176.57,345.69L175.91,344.23L175.27,342.60L174.64,340.80L174.04,338.84L173.46,336.73L172.91,334.45L172.38,332.02L171.88,329.44L171.40,326.72L170.95,323.84L170.53,320.83L170.14,317.68L169.77,314.39L169.43,310.98L169.12,307.43L168.84,303.77L168.59,299.99L168.36,296.10L168.16,292.10L167.98,287.99L167.82,283.79L167.69,279.50L167.58,275.12L167.48,270.66L167.40,266.12L167.34,261.51L167.29,256.83L167.25,252.09L167.22,247.30L167.20,242.47L167.19,237.59L167.18,232.67L167.18,227.72L167.18,222.75L167.18,217.76L167.18,212.76L167.18,207.75L167.18,202.74L167.18,197.74L167.18,192.75L167.18,187.78L167.18,182.83L167.19,177.91L167.20,173.03L167.22,168.20L167.25,163.41L167.29,158.67L167.34,153.99L167.40,149.38L167.48,144.84L167.58,140.38L167.69,136.00L167.82,131.71L167.98,127.51L168.16,123.40L168.36,119.40L168.59,115.51L168.84,111.73L169.12,108.07L169.43,104.52L169.77,101.11L170.14,97.82L170.53,94.67L170.95,91.66L171.40,88.78L171.88,86.06L172.38,83.48L172.91,81.05L173.46,78.77L174.04,76.66L174.64,74.70L175.27,72.90L175.91,71.27L176.57,69.81L177.25,68.51L177.94,67.39L178.64,66.43L179.35,65.65L180.08,65.04L180.81,64.60L181.54,64.34L182.28,64.25Z" fill="#28ffa6" stroke="#001800" stroke-opacity="0.52" stroke-width="0.90"/>
<path d="M182.28,99.25L182.75,99.32L183.22,99.51L183.70,99.84L184.17,100.31L184.63,100.90L185.09,101.62L185.55,102.47L186.00,103.45L186.44,104.56L186.87,105.79L187.30,107.15L187.71,108.63L188.12,110.23L188.51,111.95L188.90,113.79L189.27,115.74L189.62,117.80L189.97,119.97L190.30,122.25L190.61,124.63L190.92,127.12L191.20,129.70L191.47,132.38L191.73,135.15L191.96,138.01L192.19,140.95L192.39,143.98L192.58,147.08L192.76,150.25L192.92,153.50L193.06,156.81L193.19,160.19L193.30,163.62L193.40,167.11L193.49,170.64L193.56,174.22L193.62,177.84L193.67,181.50L193.70,185.19L193.73,188.91L193.75,192.65L193.76,196.41L193.77,200.18L193.77,203.96L193.78,207.75L193.77,211.54L193.77,215.32L193.76,219.09L193.75,222.85L193.73,226.59L193.70,230.31L193.67,234.00L193.62,237.66L193.56,241.28L193.49,244.86L193.40,248.39L193.30,251.88L193.19,255.31L193.06,258.69L192.92,262.00L192.76,265.25L192.58,268.42L192.39,271.52L192.19,274.55L191.96,277.49L191.73,280.35L191.47,283.12L191.20,285.80L190.92,288.38L190.61,290.87L190.30,293.25L189.97,295.53L189.62,297.70L189.27,299.76L188.90,301.71L188.51,303.55L188.12,305.27L187.71,306.87L187.30,308.35L186.87,309.71L186.44,310.94L186.00,312.05L185.55,313.03L185.09,313.88L184.63,314.60L184.17,315.19L183.70,315.66L183.22,315.99L182.75,316.18L182.28,316.25L182.28,316.25L181.80,316.18L181.33,315.99L180.85,315.66L180.38,315.19L179.92,314.60L179.46,313.88L179.00,313.03L178.55,312.05L178.11,310.94L177.68,309.71L177.25,308.35L176.84,306.87L176.43,305.27L176.04,303.55L175.65,301.71L175.28,299.76L174.93,297.70L174.58,295.53L174.25,293.25L173.94,290.87L173.63,288.38L173.35,285.80L173.08,283.12L172.82,280.35L172.59,277.49L172.36,274.55L172.16,271.52L171.97,268.42L171.79,265.25L171.63,262.00L171.49,258.69L171.36,255.31L171.25,251.88L171.15,248.39L171.06,244.86L170.99,241.28L170.93,237.66L170.88,234.00L170.85,230.31L170.82,226.59L170.80,222.85L170.79,219.09L170.78,215.32L170.78,211.54L170.78,207.75L170.78,203.96L170.78,200.18L170.79,196.41L170.80,192.65L170.82,188.91L170.85,185.19L170.88,181.50L170.93,177.84L170.99,174.22L171.06,170.64L171.15,167.11L171.25,163.62L171.36,160.19L171.49,156.81L171.63,153.50L171.79,150.25L171.97,147.08L172.16,143.98L172.36,140.95L172.59,138.01L172.82,135.15L173.08,132.38L173.35,129.70L173.63,127.12L173.94,124.63L174.25,122.25L174.58,119.97L174.93,117.80L175.28,115.74L175.65,113.79L176.04,111.95L176.43,110.23L176.84,108.63L177.25,107.15L177.68,105.79L178.11,104.56L178.55,103.45L179.00,102.47L179.46,101.62L179.92,100.90L180.38,100.31L180.85,99.84L181.33,99.51L181.80,99.32L182.28,99.25Z" fill="#28ffd9" stroke="#001800" stroke-opacity="0.52" stroke-width="0.90"/>
<path d="M182.28,146.45L182.50,146.49L182.73,146.60L182.96,146.79L183.19,147.05L183.41,147.38L183.64,147.79L183.86,148.27L184.08,148.82L184.30,149.45L184.51,150.15L184.72,150.91L184.93,151.75L185.13,152.65L185.33,153.63L185.53,154.66L185.72,155.76L185.91,156.93L186.09,158.16L186.27,159.44L186.44,160.79L186.60,162.20L186.76,163.65L186.92,165.17L187.06,166.73L187.20,168.35L187.34,170.01L187.46,171.72L187.58,173.47L187.70,175.27L187.80,177.10L187.90,178.97L187.99,180.88L188.08,182.82L188.15,184.79L188.22,186.78L188.28,188.81L188.34,190.85L188.39,192.92L188.43,195.01L188.46,197.11L188.48,199.22L188.50,201.34L188.52,203.47L188.52,205.61L188.53,207.75L188.52,209.89L188.52,212.03L188.50,214.16L188.48,216.28L188.46,218.39L188.43,220.49L188.39,222.58L188.34,224.65L188.28,226.69L188.22,228.72L188.15,230.71L188.08,232.68L187.99,234.62L187.90,236.53L187.80,238.40L187.70,240.23L187.58,242.03L187.46,243.78L187.34,245.49L187.20,247.15L187.06,248.77L186.92,250.33L186.76,251.85L186.60,253.30L186.44,254.71L186.27,256.06L186.09,257.34L185.91,258.57L185.72,259.74L185.53,260.84L185.33,261.87L185.13,262.85L184.93,263.75L184.72,264.59L184.51,265.35L184.30,266.05L184.08,266.68L183.86,267.23L183.64,267.71L183.41,268.12L183.19,268.45L182.96,268.71L182.73,268.90L182.50,269.01L182.28,269.05L182.28,269.05L182.05,269.01L181.82,268.90L181.59,268.71L181.36,268.45L181.14,268.12L180.91,267.71L180.69,267.23L180.47,266.68L180.25,266.05L180.04,265.35L179.83,264.59L179.62,263.75L179.42,262.85L179.22,261.87L179.02,260.84L178.83,259.74L178.64,258.57L178.46,257.34L178.28,256.06L178.11,254.71L177.95,253.30L177.79,251.85L177.63,250.33L177.49,248.77L177.35,247.15L177.21,245.49L177.09,243.78L176.97,242.03L176.85,240.23L176.75,238.40L176.65,236.53L176.56,234.62L176.47,232.68L176.40,230.71L176.33,228.72L176.27,226.69L176.21,224.65L176.16,222.58L176.12,220.49L176.09,218.39L176.07,216.28L176.05,214.16L176.03,212.03L176.03,209.89L176.03,207.75L176.03,205.61L176.03,203.47L176.05,201.34L176.07,199.22L176.09,197.11L176.12,195.01L176.16,192.92L176.21,190.85L176.27,188.81L176.33,186.78L176.40,184.79L176.47,182.82L176.56,180.88L176.65,178.97L176.75,177.10L176.85,175.27L176.97,173.47L177.09,171.72L177.21,170.01L177.35,168.35L177.49,166.73L177.63,165.17L177.79,163.65L177.95,162.20L178.11,160.79L178.28,159.44L178.46,158.16L178.64,156.93L178.83,155.76L179.02,154.66L179.22,153.63L179.42,152.65L179.62,151.75L179.83,150.91L180.04,150.15L180.25,149.45L180.47,148.82L180.69,148.27L180.91,147.79L181.14,147.38L181.36,147.05L181.59,146.79L181.82,146.60L182.05,146.49L182.28,146.45Z" fill="#28f2ff" stroke="#001800" stroke-opacity="0.52" stroke-width="0.90"/>
<rect x="201.75" y="16.40" width="40.95" height="343.80" fill="#41ff28"/>
<path d="M222.23,33.25L223.56,33.36L224.88,33.68L226.18,34.21L227.45,34.95L228.68,35.90L229.85,37.06L230.97,38.43L232.03,40.01L233.01,41.79L233.93,43.77L234.76,45.96L235.52,48.34L236.20,50.91L236.80,53.68L237.32,56.63L237.78,59.77L238.17,63.08L238.49,66.58L238.77,70.24L238.99,74.08L239.16,78.07L239.30,82.23L239.41,86.53L239.49,90.99L239.55,95.58L239.59,100.32L239.62,105.18L239.64,110.17L239.66,115.28L239.66,120.50L239.67,125.83L239.67,131.25L239.67,136.77L239.67,142.38L239.67,148.07L239.67,153.83L239.67,159.65L239.67,165.53L239.67,171.47L239.67,177.45L239.67,183.46L239.67,189.51L239.67,195.58L239.67,201.66L239.68,207.75L239.67,213.84L239.67,219.92L239.67,225.99L239.67,232.04L239.67,238.05L239.67,244.03L239.67,249.97L239.67,255.85L239.67,261.67L239.67,267.43L239.67,273.12L239.67,278.73L239.67,284.25L239.67,289.67L239.66,295.00L239.66,300.22L239.64,305.33L239.62,310.32L239.59,315.18L239.55,319.92L239.49,324.51L239.41,328.97L239.30,333.27L239.16,337.43L238.99,341.42L238.77,345.26L238.49,348.92L238.17,352.42L237.78,355.73L237.32,358.87L236.80,361.82L236.20,364.59L235.52,367.16L234.76,369.54L233.93,371.73L233.01,373.71L232.03,375.49L230.97,377.07L229.85,378.44L228.68,379.60L227.45,380.55L226.18,381.29L224.88,381.82L223.56,382.14L222.23,382.25L222.23,382.25L220.89,382.14L219.57,381.82L218.27,381.29L217.00,380.55L215.77,379.60L214.60,378.44L213.48,377.07L212.42,375.49L211.44,373.71L210.52,371.73L209.69,369.54L208.93,367.16L208.25,364.59L207.65,361.82L207.13,358.87L206.67,355.73L206.28,352.42L205.96,348.92L205.68,345.26L205.46,341.42L205.29,337.43L205.15,333.27L205.04,328.97L204.96,324.51L204.90,319.92L204.86,315.18L204.83,310.32L204.81,305.33L204.79,300.22L204.79,295.00L204.78,289.67L204.78,284.25L204.78,278.73L204.78,273.12L204.78,267.43L204.78,261.67L204.78,255.85L204.78,249.97L204.78,244.03L204.78,238.05L204.78,232.04L204.78,225.99L204.78,219.92L204.78,213.84L204.78,207.75L204.78,201.66L204.78,195.58L204.78,189.51L204.78,183.46L204.78,177.45L204.78,171.47L204.78,165.53L204.78,159.65L204.78,153.83L204.78,148.07L204.78,142.38L204.78,136.77L204.78,131.25L204.78,125.83L204.79,120.50L204.79,115.28L204.81,110.17L204.83,105.18L204.86,100.32L204.90,95.58L204.96,90.99L205.04,86.53L205.15,82.23L205.29,78.07L205.46,74.08L205.68,70.24L205.96,66.58L206.28,63.08L206.67,59.77L207.13,56.63L207.65,53.68L208.25,50.91L208.93,48.34L209.69,45.96L210.52,43.77L211.44,41.79L212.42,40.01L213.48,38.43L214.60,37.06L215.77,35.90L217.00,34.95L218.27,34.21L219.57,33.68L220.89,33.36L222.23,33.25Z" fill="#74ff28" stroke="#001800" stroke-opacity="0.52" stroke-width="0.90"/>
<path d="M222.23,64.25L222.96,64.34L223.69,64.60L224.42,65.04L225.15,65.65L225.86,66.43L226.56,67.39L227.25,68.51L227.93,69.81L228.59,71.27L229.23,72.90L229.86,74.70L230.46,76.66L231.04,78.77L231.59,81.05L232.12,83.48L232.62,86.06L233.10,88.78L233.55,91.66L233.97,94.67L234.36,97.82L234.73,101.11L235.07,104.52L235.38,108.07L235.66,111.73L235.91,115.51L236.14,119.40L236.34,123.40L236.52,127.51L236.68,131.71L236.81,136.00L236.92,140.38L237.02,144.84L237.10,149.38L237.16,153.99L237.21,158.67L237.25,163.41L237.28,168.20L237.30,173.03L237.31,177.91L237.32,182.83L237.32,187.78L237.32,192.75L237.32,197.74L237.32,202.74L237.33,207.75L237.32,212.76L237.32,217.76L237.32,222.75L237.32,227.72L237.32,232.67L237.31,237.59L237.30,242.47L237.28,247.30L237.25,252.09L237.21,256.83L237.16,261.51L237.10,266.12L237.02,270.66L236.92,275.12L236.81,279.50L236.68,283.79L236.52,287.99L236.34,292.10L236.14,296.10L235.91,299.99L235.66,303.77L235.38,307.43L235.07,310.98L234.73,314.39L234.36,317.68L233.97,320.83L233.55,323.84L233.10,326.72L232.62,329.44L232.12,332.02L231.59,334.45L231.04,336.73L230.46,338.84L229.86,340.80L229.23,342.60L228.59,344.23L227.93,345.69L227.25,346.99L226.56,348.11L225.86,349.07L225.15,349.85L224.42,350.46L223.69,350.90L222.96,351.16L222.23,351.25L222.23,351.25L221.49,351.16L220.76,350.90L220.03,350.46L219.30,349.85L218.59,349.07L217.89,348.11L217.20,346.99L216.52,345.69L215.86,344.23L215.22,342.60L214.59,340.80L213.99,338.84L213.41,336.73L212.86,334.45L212.33,332.02L211.83,329.44L211.35,326.72L210.90,323.84L210.48,320.83L210.09,317.68L209.72,314.39L209.38,310.98L209.07,307.43L208.79,303.77L208.54,299.99L208.31,296.10L208.11,292.10L207.93,287.99L207.77,283.79L207.64,279.50L207.53,275.12L207.43,270.66L207.35,266.12L207.29,261.51L207.24,256.83L207.20,252.09L207.17,247.30L207.15,242.47L207.14,237.59L207.13,232.67L207.13,227.72L207.13,222.75L207.13,217.76L207.13,212.76L207.13,207.75L207.13,202.74L207.13,197.74L207.13,192.75L207.13,187.78L207.13,182.83L207.14,177.91L207.15,173.03L207.17,168.20L207.20,163.41L207.24,158.67L207.29,153.99L207.35,149.38L207.43,144.84L207.53,140.38L207.64,136.00L207.77,131.71L207.93,127.51L208.11,123.40L208.31,119.40L208.54,115.51L208.79,111.73L209.07,108.07L209.38,104.52L209.72,101.11L210.09,97.82L210.48,94.67L210.90,91.66L211.35,88.78L211.83,86.06L212.33,83.48L212.86,81.05L213.41,78.77L213.99,76.66L214.59,74.70L215.22,72.90L215.86,71.27L216.52,69.81L217.20,68.51L217.89,67.39L218.59,66.43L219.30,65.65L220.03,65.04L220.76,64.60L221.49,64.34L222.23,64.25Z" fill="#a6ff28" stroke="#001800" stroke-opacity="0.52" stroke-width="0.90"/>
<path d="M222.23,99.25L222.70,99.32L223.17,99.51L223.65,99.84L224.12,100.31L224.58,100.90L225.04,101.62L225.50,102.47L225.95,103.45L226.39,104.56L226.82,105.79L227.25,107.15L227.66,108.63L228.07,110.23L228.46,111.95L228.85,113.79L229.22,115.74L229.57,117.80L229.92,119.97L230.25,122.25L230.56,124.63L230.87,127.12L231.15,129.70L231.42,132.38L231.68,135.15L231.91,138.01L232.14,140.95L232.34,143.98L232.53,147.08L232.71,150.25L232.87,153.50L233.01,156.81L233.14,160.19L233.25,163.62L233.35,167.11L233.44,170.64L233.51,174.22L233.57,177.84L233.62,181.50L233.65,185.19L233.68,188.91L233.70,192.65L233.71,196.41L233.72,200.18L233.72,203.96L233.73,207.75L233.72,211.54L233.72,215.32L233.71,219.09L233.70,222.85L233.68,226.59L233.65,230.31L233.62,234.00L233.57,237.66L233.51,241.28L233.44,244.86L233.35,248.39L233.25,251.88L233.14,255.31L233.01,258.69L232.87,262.00L232.71,265.25L232.53,268.42L232.34,271.52L232.14,274.55L231.91,277.49L231.68,280.35L231.42,283.12L231.15,285.80L230.87,288.38L230.56,290.87L230.25,293.25L229.92,295.53L229.57,297.70L229.22,299.76L228.85,301.71L228.46,303.55L228.07,305.27L227.66,306.87L227.25,308.35L226.82,309.71L226.39,310.94L225.95,312.05L225.50,313.03L225.04,313.88L224.58,314.60L224.12,315.19L223.65,315.66L223.17,315.99L222.70,316.18L222.23,316.25L222.23,316.25L221.75,316.18L221.28,315.99L220.80,315.66L220.33,315.19L219.87,314.60L219.41,313.88L218.95,313.03L218.50,312.05L218.06,310.94L217.63,309.71L217.20,308.35L216.79,306.87L216.38,305.27L215.99,303.55L215.60,301.71L215.23,299.76L214.88,297.70L214.53,295.53L214.20,293.25L213.89,290.87L213.58,288.38L213.30,285.80L213.03,283.12L212.77,280.35L212.54,277.49L212.31,274.55L212.11,271.52L211.92,268.42L211.74,265.25L211.58,262.00L211.44,258.69L211.31,255.31L211.20,251.88L211.10,248.39L211.01,244.86L210.94,241.28L210.88,237.66L210.83,234.00L210.80,230.31L210.77,226.59L210.75,222.85L210.74,219.09L210.73,215.32L210.73,211.54L210.73,207.75L210.73,203.96L210.73,200.18L210.74,196.41L210.75,192.65L210.77,188.91L210.80,185.19L210.83,181.50L210.88,177.84L210.94,174.22L211.01,170.64L211.10,167.11L211.20,163.62L211.31,160.19L211.44,156.81L211.58,153.50L211.74,150.25L211.92,147.08L212.11,143.98L212.31,140.95L212.54,138.01L212.77,135.15L213.03,132.38L213.30,129.70L213.58,127.12L213.89,124.63L214.20,122.25L214.53,119.97L214.88,117.80L215.23,115.74L215.60,113.79L215.99,111.95L216.38,110.23L216.79,108.63L217.20,107.15L217.63,105.79L218.06,104.56L218.50,103.45L218.95,102.47L219.41,101.62L219.87,100.90L220.33,100.31L220.80,99.84L221.28,99.51L221.75,99.32L222.23,99.25Z" fill="#d9ff28" stroke="#001800" stroke-opacity="0.52" stroke-width="0.90"/>
<path d="M222.23,146.45L222.45,146.49L222.68,146.60L222.91,146.79L223.14,147.05L223.36,147.38L223.59,147.79L223.81,148.27L224.03,148.82L224.25,149.45L224.46,150.15L224.67,150.91L224.88,151.75L225.08,152.65L225.28,153.63L225.48,154.66L225.67,155.76L225.86,156.93L226.04,158.16L226.22,159.44L226.39,160.79L226.55,162.20L226.71,163.65L226.87,165.17L227.01,166.73L227.15,168.35L227.29,170.01L227.41,171.72L227.53,173.47L227.65,175.27L227.75,177.10L227.85,178.97L227.94,180.88L228.03,182.82L228.10,184.79L228.17,186.78L228.23,188.81L228.29,190.85L228.34,192.92L228.38,195.01L228.41,197.11L228.43,199.22L228.45,201.34L228.47,203.47L228.47,205.61L228.48,207.75L228.47,209.89L228.47,212.03L228.45,214.16L228.43,216.28L228.41,218.39L228.38,220.49L228.34,222.58L228.29,224.65L228.23,226.69L228.17,228.72L228.10,230.71L228.03,232.68L227.94,234.62L227.85,236.53L227.75,238.40L227.65,240.23L227.53,242.03L227.41,243.78L227.29,245.49L227.15,247.15L227.01,248.77L226.87,250.33L226.71,251.85L226.55,253.30L226.39,254.71L226.22,256.06L226.04,257.34L225.86,258.57L225.67,259.74L225.48,260.84L225.28,261.87L225.08,262.85L224.88,263.75L224.67,264.59L224.46,265.35L224.25,266.05L224.03,266.68L223.81,267.23L223.59,267.71L223.36,268.12L223.14,268.45L222.91,268.71L222.68,268.90L222.45,269.01L222.23,269.05L222.23,269.05L222.00,269.01L221.77,268.90L221.54,268.71L221.31,268.45L221.09,268.12L220.86,267.71L220.64,267.23L220.42,266.68L220.20,266.05L219.99,265.35L219.78,264.59L219.57,263.75L219.37,262.85L219.17,261.87L218.97,260.84L218.78,259.74L218.59,258.57L218.41,257.34L218.23,256.06L218.06,254.71L217.90,253.30L217.74,251.85L217.58,250.33L217.44,248.77L217.30,247.15L217.16,245.49L217.04,243.78L216.92,242.03L216.80,240.23L216.70,238.40L216.60,236.53L216.51,234.62L216.42,232.68L216.35,230.71L216.28,228.72L216.22,226.69L216.16,224.65L216.11,222.58L216.07,220.49L216.04,218.39L216.02,216.28L216.00,214.16L215.98,212.03L215.98,209.89L215.98,207.75L215.98,205.61L215.98,203.47L216.00,201.34L216.02,199.22L216.04,197.11L216.07,195.01L216.11,192.92L216.16,190.85L216.22,188.81L216.28,186.78L216.35,184.79L216.42,182.82L216.51,180.88L216.60,178.97L216.70,177.10L216.80,175.27L216.92,173.47L217.04,171.72L217.16,170.01L217.30,168.35L217.44,166.73L217.58,165.17L217.74,163.65L217.90,162.20L218.06,160.79L218.23,159.44L218.41,158.16L218.59,156.93L218.78,155.76L218.97,154.66L219.17,153.63L219.37,152.65L219.57,151.75L219.78,150.91L219.99,150.15L220.20,149.45L220.42,148.82L220.64,148.27L220.86,147.79L221.09,147.38L221.31,147.05L221.54,146.79L221.77,146.60L222.00,146.49L222.23,146.45Z" fill="#fff228" stroke="#001800" stroke-opacity="0.52" stroke-width="0.90"/>
<rect x="241.70" y="16.40" width="40.95" height="343.80" fill="#28ff41"/>
<path d="M262.18,33.25L263.51,33.36L264.83,33.68L266.13,34.21L267.40,34.95L268.63,35.90L269.80,37.06L270.92,38.43L271.98,40.01L272.96,41.79L273.88,43.77L274.71,45.96L275.47,48.34L276.15,50.91L276.75,53.68L277.27,56.63L277.73,59.77L278.12,63.08L278.44,66.58L278.72,70.24L278.94,74.08L279.11,78.07L279.25,82.23L279.36,86.53L279.44,90.99L279.50,95.58L279.54,100.32L279.57,105.18L279.59,110.17L279.61,115.28L279.61,120.50L279.62,125.83L279.62,131.25L279.62,136.77L279.62,142.38L279.62,148.07L279.62,153.83L279.62,159.65L279.62,165.53L279.62,171.47L279.62,177.45L279.62,183.46L279.62,189.51L279.62,195.58L279.62,201.66L279.62,207.75L279.62,213.84L279.62,219.92L279.62,225.99L279.62,232.04L279.62,238.05L279.62,244.03L279.62,249.97L279.62,255.85L279.62,261.67L279.62,267.43L279.62,273.12L279.62,278.73L279.62,284.25L279.62,289.67L279.61,295.00L279.61,300.22L279.59,305.33L279.57,310.32L279.54,315.18L279.50,319.92L279.44,324.51L279.36,328.97L279.25,333.27L279.11,337.43L278.94,341.42L278.72,345.26L278.44,348.92L278.12,352.42L277.73,355.73L277.27,358.87L276.75,361.82L276.15,364.59L275.47,367.16L274.71,369.54L273.88,371.73L272.96,373.71L271.98,375.49L270.92,377.07L269.80,378.44L268.63,379.60L267.40,380.55L266.13,381.29L264.83,381.82L263.51,382.14L262.18,382.25L262.18,382.25L260.84,382.14L259.52,381.82L258.22,381.29L256.95,380.55L255.72,379.60L254.55,378.44L253.43,377.07L252.37,375.49L251.39,373.71L250.47,371.73L249.64,369.54L248.88,367.16L248.20,364.59L247.60,361.82L247.08,358.87L246.62,355.73L246.23,352.42L245.91,348.92L245.63,345.26L245.41,341.42L245.24,337.43L245.10,333.27L244.99,328.97L244.91,324.51L244.85,319.92L244.81,315.18L244.78,310.32L244.76,305.33L244.74,300.22L244.74,295.00L244.73,289.67L244.73,284.25L244.73,278.73L244.73,273.12L244.73,267.43L244.73,261.67L244.73,255.85L244.73,249.97L244.73,244.03L244.73,238.05L244.73,232.04L244.73,225.99L244.73,219.92L244.73,213.84L244.73,207.75L244.73,201.66L244.73,195.58L244.73,189.51L244.73,183.46L244.73,177.45L244.73,171.47L244.73,165.53L244.73,159.65L244.73,153.83L244.73,148.07L244.73,142.38L244.73,136.77L244.73,131.25L244.73,125.83L244.74,120.50L244.74,115.28L244.76,110.17L244.78,105.18L244.81,100.32L244.85,95.58L244.91,90.99L244.99,86.53L245.10,82.23L245.24,78.07L245.41,74.08L245.63,70.24L245.91,66.58L246.23,63.08L246.62,59.77L247.08,56.63L247.60,53.68L248.20,50.91L248.88,48.34L249.64,45.96L250.47,43.77L251.39,41.79L252.37,40.01L253.43,38.43L254.55,37.06L255.72,35.90L256.95,34.95L258.22,34.21L259.52,33.68L260.84,33.36L262.18,33.25Z" fill="#28ff74" stroke="#001800" stroke-opacity="0.52" stroke-width="0.90"/>
<path d="M262.18,64.25L262.91,64.34L263.64,64.60L264.37,65.04L265.10,65.65L265.81,66.43L266.51,67.39L267.20,68.51L267.88,69.81L268.54,71.27L269.18,72.90L269.81,74.70L270.41,76.66L270.99,78.77L271.54,81.05L272.07,83.48L272.57,86.06L273.05,88.78L273.50,91.66L273.92,94.67L274.31,97.82L274.68,101.11L275.02,104.52L275.33,108.07L275.61,111.73L275.86,115.51L276.09,119.40L276.29,123.40L276.47,127.51L276.63,131.71L276.76,136.00L276.87,140.38L276.97,144.84L277.05,149.38L277.11,153.99L277.16,158.67L277.20,163.41L277.23,168.20L277.25,173.03L277.26,177.91L277.27,182.83L277.27,187.78L277.27,192.75L277.27,197.74L277.27,202.74L277.28,207.75L277.27,212.76L277.27,217.76L277.27,222.75L277.27,227.72L277.27,232.67L277.26,237.59L277.25,242.47L277.23,247.30L277.20,252.09L277.16,256.83L277.11,261.51L277.05,266.12L276.97,270.66L276.87,275.12L276.76,279.50L276.63,283.79L276.47,287.99L276.29,292.10L276.09,296.10L275.86,299.99L275.61,303.77L275.33,307.43L275.02,310.98L274.68,314.39L274.31,317.68L273.92,320.83L273.50,323.84L273.05,326.72L272.57,329.44L272.07,332.02L271.54,334.45L270.99,336.73L270.41,338.84L269.81,340.80L269.18,342.60L268.54,344.23L267.88,345.69L267.20,346.99L266.51,348.11L265.81,349.07L265.10,349.85L264.37,350.46L263.64,350.90L262.91,351.16L262.18,351.25L262.18,351.25L261.44,351.16L260.71,350.90L259.98,350.46L259.25,349.85L258.54,349.07L257.84,348.11L257.15,346.99L256.47,345.69L255.81,344.23L255.17,342.60L254.54,340.80L253.94,338.84L253.36,336.73L252.81,334.45L252.28,332.02L251.78,329.44L251.30,326.72L250.85,323.84L250.43,320.83L250.04,317.68L249.67,314.39L249.33,310.98L249.02,307.43L248.74,303.77L248.49,299.99L248.26,296.10L248.06,292.10L247.88,287.99L247.72,283.79L247.59,279.50L247.48,275.12L247.38,270.66L247.30,266.12L247.24,261.51L247.19,256.83L247.15,252.09L247.12,247.30L247.10,242.47L247.09,237.59L247.08,232.67L247.08,227.72L247.08,222.75L247.08,217.76L247.08,212.76L247.08,207.75L247.08,202.74L247.08,197.74L247.08,192.75L247.08,187.78L247.08,182.83L247.09,177.91L247.10,173.03L247.12,168.20L247.15,163.41L247.19,158.67L247.24,153.99L247.30,149.38L247.38,144.84L247.48,140.38L247.59,136.00L247.72,131.71L247.88,127.51L248.06,123.40L248.26,119.40L248.49,115.51L248.74,111.73L249.02,108.07L249.33,104.52L249.67,101.11L250.04,97.82L250.43,94.67L250.85,91.66L251.30,88.78L251.78,86.06L252.28,83.48L252.81,81.05L253.36,78.77L253.94,76.66L254.54,74.70L255.17,72.90L255.81,71.27L256.47,69.81L257.15,68.51L257.84,67.39L258.54,66.43L259.25,65.65L259.98,65.04L260.71,64.60L261.44,64.34L262.18,64.25Z" fill="#28ffa6" stroke="#001800" stroke-opacity="0.52" stroke-width="0.90"/>
<path d="M262.18,99.25L262.65,99.32L263.12,99.51L263.60,99.84L264.07,100.31L264.53,100.90L264.99,101.62L265.45,102.47L265.90,103.45L266.34,104.56L266.77,105.79L267.20,107.15L267.61,108.63L268.02,110.23L268.41,111.95L268.80,113.79L269.17,115.74L269.52,117.80L269.87,119.97L270.20,122.25L270.51,124.63L270.82,127.12L271.10,129.70L271.37,132.38L271.63,135.15L271.86,138.01L272.09,140.95L272.29,143.98L272.48,147.08L272.66,150.25L272.82,153.50L272.96,156.81L273.09,160.19L273.20,163.62L273.30,167.11L273.39,170.64L273.46,174.22L273.52,177.84L273.57,181.50L273.60,185.19L273.63,188.91L273.65,192.65L273.66,196.41L273.67,200.18L273.67,203.96L273.68,207.75L273.67,211.54L273.67,215.32L273.66,219.09L273.65,222.85L273.63,226.59L273.60,230.31L273.57,234.00L273.52,237.66L273.46,241.28L273.39,244.86L273.30,248.39L273.20,251.88L273.09,255.31L272.96,258.69L272.82,262.00L272.66,265.25L272.48,268.42L272.29,271.52L272.09,274.55L271.86,277.49L271.63,280.35L271.37,283.12L271.10,285.80L270.82,288.38L270.51,290.87L270.20,293.25L269.87,295.53L269.52,297.70L269.17,299.76L268.80,301.71L268.41,303.55L268.02,305.27L267.61,306.87L267.20,308.35L266.77,309.71L266.34,310.94L265.90,312.05L265.45,313.03L264.99,313.88L264.53,314.60L264.07,315.19L263.60,315.66L263.12,315.99L262.65,316.18L262.18,316.25L262.18,316.25L261.70,316.18L261.23,315.99L260.75,315.66L260.28,315.19L259.82,314.60L259.36,313.88L258.90,313.03L258.45,312.05L258.01,310.94L257.58,309.71L257.15,308.35L256.74,306.87L256.33,305.27L255.94,303.55L255.55,301.71L255.18,299.76L254.83,297.70L254.48,295.53L254.15,293.25L253.84,290.87L253.53,288.38L253.25,285.80L252.98,283.12L252.72,280.35L252.49,277.49L252.26,274.55L252.06,271.52L251.87,268.42L251.69,265.25L251.53,262.00L251.39,258.69L251.26,255.31L251.15,251.88L251.05,248.39L250.96,244.86L250.89,241.28L250.83,237.66L250.78,234.00L250.75,230.31L250.72,226.59L250.70,222.85L250.69,219.09L250.68,215.32L250.68,211.54L250.68,207.75L250.68,203.96L250.68,200.18L250.69,196.41L250.70,192.65L250.72,188.91L250.75,185.19L250.78,181.50L250.83,177.84L250.89,174.22L250.96,170.64L251.05,167.11L251.15,163.62L251.26,160.19L251.39,156.81L251.53,153.50L251.69,150.25L251.87,147.08L252.06,143.98L252.26,140.95L252.49,138.01L252.72,135.15L252.98,132.38L253.25,129.70L253.53,127.12L253.84,124.63L254.15,122.25L254.48,119.97L254.83,117.80L255.18,115.74L255.55,113.79L255.94,111.95L256.33,110.23L256.74,108.63L257.15,107.15L257.58,105.79L258.01,104.56L258.45,103.45L258.90,102.47L259.36,101.62L259.82,100.90L260.28,100.31L260.75,99.84L261.23,99.51L261.70,99.32L262.18,99.25Z" fill="#28ffd9" stroke="#001800" stroke-opacity="0.52" stroke-width="0.90"/>
<path d="M262.18,146.45L262.40,146.49L262.63,146.60L262.86,146.79L263.09,147.05L263.31,147.38L263.54,147.79L263.76,148.27L263.98,148.82L264.20,149.45L264.41,150.15L264.62,150.91L264.83,151.75L265.03,152.65L265.23,153.63L265.43,154.66L265.62,155.76L265.81,156.93L265.99,158.16L266.17,159.44L266.34,160.79L266.50,162.20L266.66,163.65L266.82,165.17L266.96,166.73L267.10,168.35L267.24,170.01L267.36,171.72L267.48,173.47L267.60,175.27L267.70,177.10L267.80,178.97L267.89,180.88L267.98,182.82L268.05,184.79L268.12,186.78L268.18,188.81L268.24,190.85L268.29,192.92L268.33,195.01L268.36,197.11L268.38,199.22L268.40,201.34L268.42,203.47L268.42,205.61L268.43,207.75L268.42,209.89L268.42,212.03L268.40,214.16L268.38,216.28L268.36,218.39L268.33,220.49L268.29,222.58L268.24,224.65L268.18,226.69L268.12,228.72L268.05,230.71L267.98,232.68L267.89,234.62L267.80,236.53L267.70,238.40L267.60,240.23L267.48,242.03L267.36,243.78L267.24,245.49L267.10,247.15L266.96,248.77L266.82,250.33L266.66,251.85L266.50,253.30L266.34,254.71L266.17,256.06L265.99,257.34L265.81,258.57L265.62,259.74L265.43,260.84L265.23,261.87L265.03,262.85L264.83,263.75L264.62,264.59L264.41,265.35L264.20,266.05L263.98,266.68L263.76,267.23L263.54,267.71L263.31,268.12L263.09,268.45L262.86,268.71L262.63,268.90L262.40,269.01L262.18,269.05L262.18,269.05L261.95,269.01L261.72,268.90L261.49,268.71L261.26,268.45L261.04,268.12L260.81,267.71L260.59,267.23L260.37,266.68L260.15,266.05L259.94,265.35L259.73,264.59L259.52,263.75L259.32,262.85L259.12,261.87L258.92,260.84L258.73,259.74L258.54,258.57L258.36,257.34L258.18,256.06L258.01,254.71L257.85,253.30L257.69,251.85L257.53,250.33L257.39,248.77L257.25,247.15L257.11,245.49L256.99,243.78L256.87,242.03L256.75,240.23L256.65,238.40L256.55,236.53L256.46,234.62L256.37,232.68L256.30,230.71L256.23,228.72L256.17,226.69L256.11,224.65L256.06,222.58L256.02,220.49L255.99,218.39L255.97,216.28L255.95,214.16L255.93,212.03L255.93,209.89L255.93,207.75L255.93,205.61L255.93,203.47L255.95,201.34L255.97,199.22L255.99,197.11L256.02,195.01L256.06,192.92L256.11,190.85L256.17,188.81L256.23,186.78L256.30,184.79L256.37,182.82L256.46,180.88L256.55,178.97L256.65,177.10L256.75,175.27L256.87,173.47L256.99,171.72L257.11,170.01L257.25,168.35L257.39,166.73L257.53,165.17L257.69,163.65L257.85,162.20L258.01,160.79L258.18,159.44L258.36,158.16L258.54,156.93L258.73,155.76L258.92,154.66L259.12,153.63L259.32,152.65L259.52,151.75L259.73,150.91L259.94,150.15L260.15,149.45L260.37,148.82L260.59,148.27L260.81,147.79L261.04,147.38L261.26,147.05L261.49,146.79L261.72,146.60L261.95,146.49L262.18,146.45Z" fill="#28f2ff" stroke="#001800" stroke-opacity="0.52" stroke-width="0.90"/>
<rect x="281.65" y="16.40" width="40.95" height="343.80" fill="#41ff28"/>
<path d="M302.12,33.25L303.46,33.36L304.78,33.68L306.08,34.21L307.35,34.95L308.58,35.90L309.75,37.06L310.87,38.43L311.93,40.01L312.91,41.79L313.83,43.77L314.66,45.96L315.42,48.34L316.10,50.91L316.70,53.68L317.22,56.63L317.68,59.77L318.07,63.08L318.39,66.58L318.67,70.24L318.89,74.08L319.06,78.07L319.20,82.23L319.31,86.53L319.39,90.99L319.45,95.58L319.49,100.32L319.52,105.18L319.54,110.17L319.56,115.28L319.56,120.50L319.57,125.83L319.57,131.25L319.57,136.77L319.57,142.38L319.57,148.07L319.57,153.83L319.57,159.65L319.57,165.53L319.57,171.47L319.57,177.45L319.57,183.46L319.57,189.51L319.57,195.58L319.57,201.66L319.57,207.75L319.57,213.84L319.57,219.92L319.57,225.99L319.57,232.04L319.57,238.05L319.57,244.03L319.57,249.97L319.57,255.85L319.57,261.67L319.57,267.43L319.57,273.12L319.57,278.73L319.57,284.25L319.57,289.67L319.56,295.00L319.56,300.22L319.54,305.33L319.52,310.32L319.49,315.18L319.45,319.92L319.39,324.51L319.31,328.97L319.20,333.27L319.06,337.43L318.89,341.42L318.67,345.26L318.39,348.92L318.07,352.42L317.68,355.73L317.22,358.87L316.70,361.82L316.10,364.59L315.42,367.16L314.66,369.54L313.83,371.73L312.91,373.71L311.93,375.49L310.87,377.07L309.75,378.44L308.58,379.60L307.35,380.55L306.08,381.29L304.78,381.82L303.46,382.14L302.12,382.25L302.12,382.25L300.79,382.14L299.47,381.82L298.17,381.29L296.90,380.55L295.67,379.60L294.50,378.44L293.38,377.07L292.32,375.49L291.34,373.71L290.42,371.73L289.59,369.54L288.83,367.16L288.15,364.59L287.55,361.82L287.03,358.87L286.57,355.73L286.18,352.42L285.86,348.92L285.58,345.26L285.36,341.42L285.19,337.43L285.05,333.27L284.94,328.97L284.86,324.51L284.80,319.92L284.76,315.18L284.73,310.32L284.71,305.33L284.69,300.22L284.69,295.00L284.68,289.67L284.68,284.25L284.68,278.73L284.68,273.12L284.68,267.43L284.68,261.67L284.68,255.85L284.68,249.97L284.68,244.03L284.68,238.05L284.68,232.04L284.68,225.99L284.68,219.92L284.68,213.84L284.68,207.75L284.68,201.66L284.68,195.58L284.68,189.51L284.68,183.46L284.68,177.45L284.68,171.47L284.68,165.53L284.68,159.65L284.68,153.83L284.68,148.07L284.68,142.38L284.68,136.77L284.68,131.25L284.68,125.83L284.69,120.50L284.69,115.28L284.71,110.17L284.73,105.18L284.76,100.32L284.80,95.58L284.86,90.99L284.94,86.53L285.05,82.23L285.19,78.07L285.36,74.08L285.58,70.24L285.86,66.58L286.18,63.08L286.57,59.77L287.03,56.63L287.55,53.68L288.15,50.91L288.83,48.34L289.59,45.96L290.42,43.77L291.34,41.79L292.32,40.01L293.38,38.43L294.50,37.06L295.67,35.90L296.90,34.95L298.17,34.21L299.47,33.68L300.79,33.36L302.12,33.25Z" fill="#74ff28" stroke="#001800" stroke-opacity="0.52" stroke-width="0.90"/>
<path d="M302.12,64.25L302.86,64.34L303.59,64.60L304.32,65.04L305.05,65.65L305.76,66.43L306.46,67.39L307.15,68.51L307.83,69.81L308.49,71.27L309.13,72.90L309.76,74.70L310.36,76.66L310.94,78.77L311.49,81.05L312.02,83.48L312.52,86.06L313.00,88.78L313.45,91.66L313.87,94.67L314.26,97.82L314.63,101.11L314.97,104.52L315.28,108.07L315.56,111.73L315.81,115.51L316.04,119.40L316.24,123.40L316.42,127.51L316.58,131.71L316.71,136.00L316.82,140.38L316.92,144.84L317.00,149.38L317.06,153.99L317.11,158.67L317.15,163.41L317.18,168.20L317.20,173.03L317.21,177.91L317.22,182.83L317.22,187.78L317.22,192.75L317.22,197.74L317.22,202.74L317.23,207.75L317.22,212.76L317.22,217.76L317.22,222.75L317.22,227.72L317.22,232.67L317.21,237.59L317.20,242.47L317.18,247.30L317.15,252.09L317.11,256.83L317.06,261.51L317.00,266.12L316.92,270.66L316.82,275.12L316.71,279.50L316.58,283.79L316.42,287.99L316.24,292.10L316.04,296.10L315.81,299.99L315.56,303.77L315.28,307.43L314.97,310.98L314.63,314.39L314.26,317.68L313.87,320.83L313.45,323.84L313.00,326.72L312.52,329.44L312.02,332.02L311.49,334.45L310.94,336.73L310.36,338.84L309.76,340.80L309.13,342.60L308.49,344.23L307.83,345.69L307.15,346.99L306.46,348.11L305.76,349.07L305.05,349.85L304.32,350.46L303.59,350.90L302.86,351.16L302.12,351.25L302.12,351.25L301.39,351.16L300.66,350.90L299.93,350.46L299.20,349.85L298.49,349.07L297.79,348.11L297.10,346.99L296.42,345.69L295.76,344.23L295.12,342.60L294.49,340.80L293.89,338.84L293.31,336.73L292.76,334.45L292.23,332.02L291.73,329.44L291.25,326.72L290.80,323.84L290.38,320.83L289.99,317.68L289.62,314.39L289.28,310.98L288.97,307.43L288.69,303.77L288.44,299.99L288.21,296.10L288.01,292.10L287.83,287.99L287.67,283.79L287.54,279.50L287.43,275.12L287.33,270.66L287.25,266.12L287.19,261.51L287.14,256.83L287.10,252.09L287.07,247.30L287.05,242.47L287.04,237.59L287.03,232.67L287.03,227.72L287.03,222.75L287.03,217.76L287.03,212.76L287.02,207.75L287.03,202.74L287.03,197.74L287.03,192.75L287.03,187.78L287.03,182.83L287.04,177.91L287.05,173.03L287.07,168.20L287.10,163.41L287.14,158.67L287.19,153.99L287.25,149.38L287.33,144.84L287.43,140.38L287.54,136.00L287.67,131.71L287.83,127.51L288.01,123.40L288.21,119.40L288.44,115.51L288.69,111.73L288.97,108.07L289.28,104.52L289.62,101.11L289.99,97.82L290.38,94.67L290.80,91.66L291.25,88.78L291.73,86.06L292.23,83.48L292.76,81.05L293.31,78.77L293.89,76.66L294.49,74.70L295.12,72.90L295.76,71.27L296.42,69.81L297.10,68.51L297.79,67.39L298.49,66.43L299.20,65.65L299.93,65.04L300.66,64.60L301.39,64.34L302.12,64.25Z" fill="#a6ff28" stroke="#001800" stroke-opacity="0.52" stroke-width="0.90"/>
<path d="M302.12,99.25L302.60,99.32L303.07,99.51L303.55,99.84L304.02,100.31L304.48,100.90L304.94,101.62L305.40,102.47L305.85,103.45L306.29,104.56L306.72,105.79L307.15,107.15L307.56,108.63L307.97,110.23L308.36,111.95L308.75,113.79L309.12,115.74L309.47,117.80L309.82,119.97L310.15,122.25L310.46,124.63L310.77,127.12L311.05,129.70L311.32,132.38L311.58,135.15L311.81,138.01L312.04,140.95L312.24,143.98L312.43,147.08L312.61,150.25L312.77,153.50L312.91,156.81L313.04,160.19L313.15,163.62L313.25,167.11L313.34,170.64L313.41,174.22L313.47,177.84L313.52,181.50L313.55,185.19L313.58,188.91L313.60,192.65L313.61,196.41L313.62,200.18L313.62,203.96L313.62,207.75L313.62,211.54L313.62,215.32L313.61,219.09L313.60,222.85L313.58,226.59L313.55,230.31L313.52,234.00L313.47,237.66L313.41,241.28L313.34,244.86L313.25,248.39L313.15,251.88L313.04,255.31L312.91,258.69L312.77,262.00L312.61,265.25L312.43,268.42L312.24,271.52L312.04,274.55L311.81,277.49L311.58,280.35L311.32,283.12L311.05,285.80L310.77,288.38L310.46,290.87L310.15,293.25L309.82,295.53L309.47,297.70L309.12,299.76L308.75,301.71L308.36,303.55L307.97,305.27L307.56,306.87L307.15,308.35L306.72,309.71L306.29,310.94L305.85,312.05L305.40,313.03L304.94,313.88L304.48,314.60L304.02,315.19L303.55,315.66L303.07,315.99L302.60,316.18L302.12,316.25L302.12,316.25L301.65,316.18L301.18,315.99L300.70,315.66L300.23,315.19L299.77,314.60L299.31,313.88L298.85,313.03L298.40,312.05L297.96,310.94L297.53,309.71L297.10,308.35L296.69,306.87L296.28,305.27L295.89,303.55L295.50,301.71L295.13,299.76L294.78,297.70L294.43,295.53L294.10,293.25L293.79,290.87L293.48,288.38L293.20,285.80L292.93,283.12L292.67,280.35L292.44,277.49L292.21,274.55L292.01,271.52L291.82,268.42L291.64,265.25L291.48,262.00L291.34,258.69L291.21,255.31L291.10,251.88L291.00,248.39L290.91,244.86L290.84,241.28L290.78,237.66L290.73,234.00L290.70,230.31L290.67,226.59L290.65,222.85L290.64,219.09L290.63,215.32L290.63,211.54L290.62,207.75L290.63,203.96L290.63,200.18L290.64,196.41L290.65,192.65L290.67,188.91L290.70,185.19L290.73,181.50L290.78,177.84L290.84,174.22L290.91,170.64L291.00,167.11L291.10,163.62L291.21,160.19L291.34,156.81L291.48,153.50L291.64,150.25L291.82,147.08L292.01,143.98L292.21,140.95L292.44,138.01L292.67,135.15L292.93,132.38L293.20,129.70L293.48,127.12L293.79,124.63L294.10,122.25L294.43,119.97L294.78,117.80L295.13,115.74L295.50,113.79L295.89,111.95L296.28,110.23L296.69,108.63L297.10,107.15L297.53,105.79L297.96,104.56L298.40,103.45L298.85,102.47L299.31,101.62L299.77,100.90L300.23,100.31L300.70,99.84L301.18,99.51L301.65,99.32L302.12,99.25Z" fill="#d9ff28" stroke="#001800" stroke-opacity="0.52" stroke-width="0.90"/>
<path d="M302.12,146.45L302.35,146.49L302.58,146.60L302.81,146.79L303.04,147.05L303.26,147.38L303.49,147.79L303.71,148.27L303.93,148.82L304.15,149.45L304.36,150.15L304.57,150.91L304.78,151.75L304.98,152.65L305.18,153.63L305.38,154.66L305.57,155.76L305.76,156.93L305.94,158.16L306.12,159.44L306.29,160.79L306.45,162.20L306.61,163.65L306.77,165.17L306.91,166.73L307.05,168.35L307.19,170.01L307.31,171.72L307.43,173.47L307.55,175.27L307.65,177.10L307.75,178.97L307.84,180.88L307.93,182.82L308.00,184.79L308.07,186.78L308.13,188.81L308.19,190.85L308.24,192.92L308.28,195.01L308.31,197.11L308.33,199.22L308.35,201.34L308.37,203.47L308.37,205.61L308.38,207.75L308.37,209.89L308.37,212.03L308.35,214.16L308.33,216.28L308.31,218.39L308.28,220.49L308.24,222.58L308.19,224.65L308.13,226.69L308.07,228.72L308.00,230.71L307.93,232.68L307.84,234.62L307.75,236.53L307.65,238.40L307.55,240.23L307.43,242.03L307.31,243.78L307.19,245.49L307.05,247.15L306.91,248.77L306.77,250.33L306.61,251.85L306.45,253.30L306.29,254.71L306.12,256.06L305.94,257.34L305.76,258.57L305.57,259.74L305.38,260.84L305.18,261.87L304.98,262.85L304.78,263.75L304.57,264.59L304.36,265.35L304.15,266.05L303.93,266.68L303.71,267.23L303.49,267.71L303.26,268.12L303.04,268.45L302.81,268.71L302.58,268.90L302.35,269.01L302.12,269.05L302.12,269.05L301.90,269.01L301.67,268.90L301.44,268.71L301.21,268.45L300.99,268.12L300.76,267.71L300.54,267.23L300.32,266.68L300.10,266.05L299.89,265.35L299.68,264.59L299.47,263.75L299.27,262.85L299.07,261.87L298.87,260.84L298.68,259.74L298.49,258.57L298.31,257.34L298.13,256.06L297.96,254.71L297.80,253.30L297.64,251.85L297.48,250.33L297.34,248.77L297.20,247.15L297.06,245.49L296.94,243.78L296.82,242.03L296.70,240.23L296.60,238.40L296.50,236.53L296.41,234.62L296.32,232.68L296.25,230.71L296.18,228.72L296.12,226.69L296.06,224.65L296.01,222.58L295.97,220.49L295.94,218.39L295.92,216.28L295.90,214.16L295.88,212.03L295.88,209.89L295.88,207.75L295.88,205.61L295.88,203.47L295.90,201.34L295.92,199.22L295.94,197.11L295.97,195.01L296.01,192.92L296.06,190.85L296.12,188.81L296.18,186.78L296.25,184.79L296.32,182.82L296.41,180.88L296.50,178.97L296.60,177.10L296.70,175.27L296.82,173.47L296.94,171.72L297.06,170.01L297.20,168.35L297.34,166.73L297.48,165.17L297.64,163.65L297.80,162.20L297.96,160.79L298.13,159.44L298.31,158.16L298.49,156.93L298.68,155.76L298.87,154.66L299.07,153.63L299.27,152.65L299.47,151.75L299.68,150.91L299.89,150.15L300.10,149.45L300.32,148.82L300.54,148.27L300.76,147.79L300.99,147.38L301.21,147.05L301.44,146.79L301.67,146.60L301.90,146.49L302.12,146.45Z" fill="#fff228" stroke="#001800" stroke-opacity="0.52" stroke-width="0.90"/>
<rect x="321.60" y="16.40" width="40.95" height="343.80" fill="#28ff41"/>
<path d="M342.08,33.25L343.41,33.36L344.73,33.68L346.03,34.21L347.30,34.95L348.53,35.90L349.70,37.06L350.82,38.43L351.88,40.01L352.86,41.79L353.78,43.77L354.61,45.96L355.37,48.34L356.05,50.91L356.65,53.68L357.17,56.63L357.63,59.77L358.02,63.08L358.34,66.58L358.62,70.24L358.84,74.08L359.01,78.07L359.15,82.23L359.26,86.53L359.34,90.99L359.40,95.58L359.44,100.32L359.47,105.18L359.49,110.17L359.51,115.28L359.51,120.50L359.52,125.83L359.52,131.25L359.52,136.77L359.52,142.38L359.52,148.07L359.52,153.83L359.52,159.65L359.52,165.53L359.52,171.47L359.52,177.45L359.52,183.46L359.52,189.51L359.52,195.58L359.52,201.66L359.53,207.75L359.52,213.84L359.52,219.92L359.52,225.99L359.52,232.04L359.52,238.05L359.52,244.03L359.52,249.97L359.52,255.85L359.52,261.67L359.52,267.43L359.52,273.12L359.52,278.73L359.52,284.25L359.52,289.67L359.51,295.00L359.51,300.22L359.49,305.33L359.47,310.32L359.44,315.18L359.40,319.92L359.34,324.51L359.26,328.97L359.15,333.27L359.01,337.43L358.84,341.42L358.62,345.26L358.34,348.92L358.02,352.42L357.63,355.73L357.17,358.87L356.65,361.82L356.05,364.59L355.37,367.16L354.61,369.54L353.78,371.73L352.86,373.71L351.88,375.49L350.82,377.07L349.70,378.44L348.53,379.60L347.30,380.55L346.03,381.29L344.73,381.82L343.41,382.14L342.08,382.25L342.08,382.25L340.74,382.14L339.42,381.82L338.12,381.29L336.85,380.55L335.62,379.60L334.45,378.44L333.33,377.07L332.27,375.49L331.29,373.71L330.37,371.73L329.54,369.54L328.78,367.16L328.10,364.59L327.50,361.82L326.98,358.87L326.52,355.73L326.13,352.42L325.81,348.92L325.53,345.26L325.31,341.42L325.14,337.43L325.00,333.27L324.89,328.97L324.81,324.51L324.75,319.92L324.71,315.18L324.68,310.32L324.66,305.33L324.64,300.22L324.64,295.00L324.63,289.67L324.63,284.25L324.63,278.73L324.63,273.12L324.63,267.43L324.63,261.67L324.63,255.85L324.63,249.97L324.63,244.03L324.63,238.05L324.63,232.04L324.63,225.99L324.63,219.92L324.63,213.84L324.63,207.75L324.63,201.66L324.63,195.58L324.63,189.51L324.63,183.46L324.63,177.45L324.63,171.47L324.63,165.53L324.63,159.65L324.63,153.83L324.63,148.07L324.63,142.38L324.63,136.77L324.63,131.25L324.63,125.83L324.64,120.50L324.64,115.28L324.66,110.17L324.68,105.18L324.71,100.32L324.75,95.58L324.81,90.99L324.89,86.53L325.00,82.23L325.14,78.07L325.31,74.08L325.53,70.24L325.81,66.58L326.13,63.08L326.52,59.77L326.98,56.63L327.50,53.68L328.10,50.91L328.78,48.34L329.54,45.96L330.37,43.77L331.29,41.79L332.27,40.01L333.33,38.43L334.45,37.06L335.62,35.90L336.85,34.95L338.12,34.21L339.42,33.68L340.74,33.36L342.08,33.25Z" fill="#28ff74" stroke="#001800" stroke-opacity="0.52" stroke-width="0.90"/>
<path d="M342.08,64.25L342.81,64.34L343.54,64.60L344.27,65.04L345.00,65.65L345.71,66.43L346.41,67.39L347.10,68.51L347.78,69.81L348.44,71.27L349.08,72.90L349.71,74.70L350.31,76.66L350.89,78.77L351.44,81.05L351.97,83.48L352.47,86.06L352.95,88.78L353.40,91.66L353.82,94.67L354.21,97.82L354.58,101.11L354.92,104.52L355.23,108.07L355.51,111.73L355.76,115.51L355.99,119.40L356.19,123.40L356.37,127.51L356.53,131.71L356.66,136.00L356.77,140.38L356.87,144.84L356.95,149.38L357.01,153.99L357.06,158.67L357.10,163.41L357.13,168.20L357.15,173.03L357.16,177.91L357.17,182.83L357.17,187.78L357.17,192.75L357.17,197.74L357.17,202.74L357.18,207.75L357.17,212.76L357.17,217.76L357.17,222.75L357.17,227.72L357.17,232.67L357.16,237.59L357.15,242.47L357.13,247.30L357.10,252.09L357.06,256.83L357.01,261.51L356.95,266.12L356.87,270.66L356.77,275.12L356.66,279.50L356.53,283.79L356.37,287.99L356.19,292.10L355.99,296.10L355.76,299.99L355.51,303.77L355.23,307.43L354.92,310.98L354.58,314.39L354.21,317.68L353.82,320.83L353.40,323.84L352.95,326.72L352.47,329.44L351.97,332.02L351.44,334.45L350.89,336.73L350.31,338.84L349.71,340.80L349.08,342.60L348.44,344.23L347.78,345.69L347.10,346.99L346.41,348.11L345.71,349.07L345.00,349.85L344.27,350.46L343.54,350.90L342.81,351.16L342.08,351.25L342.08,351.25L341.34,351.16L340.61,350.90L339.88,350.46L339.15,349.85L338.44,349.07L337.74,348.11L337.05,346.99L336.37,345.69L335.71,344.23L335.07,342.60L334.44,340.80L333.84,338.84L333.26,336.73L332.71,334.45L332.18,332.02L331.68,329.44L331.20,326.72L330.75,323.84L330.33,320.83L329.94,317.68L329.57,314.39L329.23,310.98L328.92,307.43L328.64,303.77L328.39,299.99L328.16,296.10L327.96,292.10L327.78,287.99L327.62,283.79L327.49,279.50L327.38,275.12L327.28,270.66L327.20,266.12L327.14,261.51L327.09,256.83L327.05,252.09L327.02,247.30L327.00,242.47L326.99,237.59L326.98,232.67L326.98,227.72L326.98,222.75L326.98,217.76L326.98,212.76L326.98,207.75L326.98,202.74L326.98,197.74L326.98,192.75L326.98,187.78L326.98,182.83L326.99,177.91L327.00,173.03L327.02,168.20L327.05,163.41L327.09,158.67L327.14,153.99L327.20,149.38L327.28,144.84L327.38,140.38L327.49,136.00L327.62,131.71L327.78,127.51L327.96,123.40L328.16,119.40L328.39,115.51L328.64,111.73L328.92,108.07L329.23,104.52L329.57,101.11L329.94,97.82L330.33,94.67L330.75,91.66L331.20,88.78L331.68,86.06L332.18,83.48L332.71,81.05L333.26,78.77L333.84,76.66L334.44,74.70L335.07,72.90L335.71,71.27L336.37,69.81L337.05,68.51L337.74,67.39L338.44,66.43L339.15,65.65L339.88,65.04L340.61,64.60L341.34,64.34L342.08,64.25Z" fill="#28ffa6" stroke="#001800" stroke-opacity="0.52" stroke-width="0.90"/>
<path d="M342.08,99.25L342.55,99.32L343.02,99.51L343.50,99.84L343.97,100.31L344.43,100.90L344.89,101.62L345.35,102.47L345.80,103.45L346.24,104.56L346.67,105.79L347.10,107.15L347.51,108.63L347.92,110.23L348.31,111.95L348.70,113.79L349.07,115.74L349.42,117.80L349.77,119.97L350.10,122.25L350.41,124.63L350.72,127.12L351.00,129.70L351.27,132.38L351.53,135.15L351.76,138.01L351.99,140.95L352.19,143.98L352.38,147.08L352.56,150.25L352.72,153.50L352.86,156.81L352.99,160.19L353.10,163.62L353.20,167.11L353.29,170.64L353.36,174.22L353.42,177.84L353.47,181.50L353.50,185.19L353.53,188.91L353.55,192.65L353.56,196.41L353.57,200.18L353.57,203.96L353.58,207.75L353.57,211.54L353.57,215.32L353.56,219.09L353.55,222.85L353.53,226.59L353.50,230.31L353.47,234.00L353.42,237.66L353.36,241.28L353.29,244.86L353.20,248.39L353.10,251.88L352.99,255.31L352.86,258.69L352.72,262.00L352.56,265.25L352.38,268.42L352.19,271.52L351.99,274.55L351.76,277.49L351.53,280.35L351.27,283.12L351.00,285.80L350.72,288.38L350.41,290.87L350.10,293.25L349.77,295.53L349.42,297.70L349.07,299.76L348.70,301.71L348.31,303.55L347.92,305.27L347.51,306.87L347.10,308.35L346.67,309.71L346.24,310.94L345.80,312.05L345.35,313.03L344.89,313.88L344.43,314.60L343.97,315.19L343.50,315.66L343.02,315.99L342.55,316.18L342.08,316.25L342.08,316.25L341.60,316.18L341.13,315.99L340.65,315.66L340.18,315.19L339.72,314.60L339.26,313.88L338.80,313.03L338.35,312.05L337.91,310.94L337.48,309.71L337.05,308.35L336.64,306.87L336.23,305.27L335.84,303.55L335.45,301.71L335.08,299.76L334.73,297.70L334.38,295.53L334.05,293.25L333.74,290.87L333.43,288.38L333.15,285.80L332.88,283.12L332.62,280.35L332.39,277.49L332.16,274.55L331.96,271.52L331.77,268.42L331.59,265.25L331.43,262.00L331.29,258.69L331.16,255.31L331.05,251.88L330.95,248.39L330.86,244.86L330.79,241.28L330.73,237.66L330.68,234.00L330.65,230.31L330.62,226.59L330.60,222.85L330.59,219.09L330.58,215.32L330.58,211.54L330.58,207.75L330.58,203.96L330.58,200.18L330.59,196.41L330.60,192.65L330.62,188.91L330.65,185.19L330.68,181.50L330.73,177.84L330.79,174.22L330.86,170.64L330.95,167.11L331.05,163.62L331.16,160.19L331.29,156.81L331.43,153.50L331.59,150.25L331.77,147.08L331.96,143.98L332.16,140.95L332.39,138.01L332.62,135.15L332.88,132.38L333.15,129.70L333.43,127.12L333.74,124.63L334.05,122.25L334.38,119.97L334.73,117.80L335.08,115.74L335.45,113.79L335.84,111.95L336.23,110.23L336.64,108.63L337.05,107.15L337.48,105.79L337.91,104.56L338.35,103.45L338.80,102.47L339.26,101.62L339.72,100.90L340.18,100.31L340.65,99.84L341.13,99.51L341.60,99.32L342.08,99.25Z" fill="#28ffd9" stroke="#001800" stroke-opacity="0.52" stroke-width="0.90"/>
<path d="M342.08,146.45L342.30,146.49L342.53,146.60L342.76,146.79L342.99,147.05L343.21,147.38L343.44,147.79L343.66,148.27L343.88,148.82L344.10,149.45L344.31,150.15L344.52,150.91L344.73,151.75L344.93,152.65L345.13,153.63L345.33,154.66L345.52,155.76L345.71,156.93L345.89,158.16L346.07,159.44L346.24,160.79L346.40,162.20L346.56,163.65L346.72,165.17L346.86,166.73L347.00,168.35L347.14,170.01L347.26,171.72L347.38,173.47L347.50,175.27L347.60,177.10L347.70,178.97L347.79,180.88L347.88,182.82L347.95,184.79L348.02,186.78L348.08,188.81L348.14,190.85L348.19,192.92L348.23,195.01L348.26,197.11L348.28,199.22L348.30,201.34L348.32,203.47L348.32,205.61L348.33,207.75L348.32,209.89L348.32,212.03L348.30,214.16L348.28,216.28L348.26,218.39L348.23,220.49L348.19,222.58L348.14,224.65L348.08,226.69L348.02,228.72L347.95,230.71L347.88,232.68L347.79,234.62L347.70,236.53L347.60,238.40L347.50,240.23L347.38,242.03L347.26,243.78L347.14,245.49L347.00,247.15L346.86,248.77L346.72,250.33L346.56,251.85L346.40,253.30L346.24,254.71L346.07,256.06L345.89,257.34L345.71,258.57L345.52,259.74L345.33,260.84L345.13,261.87L344.93,262.85L344.73,263.75L344.52,264.59L344.31,265.35L344.10,266.05L343.88,266.68L343.66,267.23L343.44,267.71L343.21,268.12L342.99,268.45L342.76,268.71L342.53,268.90L342.30,269.01L342.08,269.05L342.08,269.05L341.85,269.01L341.62,268.90L341.39,268.71L341.16,268.45L340.94,268.12L340.71,267.71L340.49,267.23L340.27,266.68L340.05,266.05L339.84,265.35L339.63,264.59L339.42,263.75L339.22,262.85L339.02,261.87L338.82,260.84L338.63,259.74L338.44,258.57L338.26,257.34L338.08,256.06L337.91,254.71L337.75,253.30L337.59,251.85L337.43,250.33L337.29,248.77L337.15,247.15L337.01,245.49L336.89,243.78L336.77,242.03L336.65,240.23L336.55,238.40L336.45,236.53L336.36,234.62L336.27,232.68L336.20,230.71L336.13,228.72L336.07,226.69L336.01,224.65L335.96,222.58L335.92,220.49L335.89,218.39L335.87,216.28L335.85,214.16L335.83,212.03L335.83,209.89L335.83,207.75L335.83,205.61L335.83,203.47L335.85,201.34L335.87,199.22L335.89,197.11L335.92,195.01L335.96,192.92L336.01,190.85L336.07,188.81L336.13,186.78L336.20,184.79L336.27,182.82L336.36,180.88L336.45,178.97L336.55,177.10L336.65,175.27L336.77,173.47L336.89,171.72L337.01,170.01L337.15,168.35L337.29,166.73L337.43,165.17L337.59,163.65L337.75,162.20L337.91,160.79L338.08,159.44L338.26,158.16L338.44,156.93L338.63,155.76L338.82,154.66L339.02,153.63L339.22,152.65L339.42,151.75L339.63,150.91L339.84,150.15L340.05,149.45L340.27,148.82L340.49,148.27L340.71,147.79L340.94,147.38L341.16,147.05L341.39,146.79L341.62,146.60L341.85,146.49L342.08,146.45Z" fill="#28f2ff" stroke="#001800" stroke-opacity="0.52" stroke-width="0.90"/>
<rect x="361.55" y="16.40" width="40.95" height="343.80" fill="#41ff28"/>
<path d="M382.03,33.25L383.36,33.36L384.68,33.68L385.98,34.21L387.25,34.95L388.48,35.90L389.65,37.06L390.77,38.43L391.83,40.01L392.81,41.79L393.73,43.77L394.56,45.96L395.32,48.34L396.00,50.91L396.60,53.68L397.12,56.63L397.58,59.77L397.97,63.08L398.29,66.58L398.57,70.24L398.79,74.08L398.96,78.07L399.10,82.23L399.21,86.53L399.29,90.99L399.35,95.58L399.39,100.32L399.42,105.18L399.44,110.17L399.46,115.28L399.46,120.50L399.47,125.83L399.47,131.25L399.47,136.77L399.47,142.38L399.47,148.07L399.47,153.83L399.47,159.65L399.47,165.53L399.47,171.47L399.47,177.45L399.47,183.46L399.47,189.51L399.47,195.58L399.47,201.66L399.48,207.75L399.47,213.84L399.47,219.92L399.47,225.99L399.47,232.04L399.47,238.05L399.47,244.03L399.47,249.97L399.47,255.85L399.47,261.67L399.47,267.43L399.47,273.12L399.47,278.73L399.47,284.25L399.47,289.67L399.46,295.00L399.46,300.22L399.44,305.33L399.42,310.32L399.39,315.18L399.35,319.92L399.29,324.51L399.21,328.97L399.10,333.27L398.96,337.43L398.79,341.42L398.57,345.26L398.29,348.92L397.97,352.42L397.58,355.73L397.12,358.87L396.60,361.82L396.00,364.59L395.32,367.16L394.56,369.54L393.73,371.73L392.81,373.71L391.83,375.49L390.77,377.07L389.65,378.44L388.48,379.60L387.25,380.55L385.98,381.29L384.68,381.82L383.36,382.14L382.03,382.25L382.03,382.25L380.69,382.14L379.37,381.82L378.07,381.29L376.80,380.55L375.57,379.60L374.40,378.44L373.28,377.07L372.22,375.49L371.24,373.71L370.32,371.73L369.49,369.54L368.73,367.16L368.05,364.59L367.45,361.82L366.93,358.87L366.47,355.73L366.08,352.42L365.76,348.92L365.48,345.26L365.26,341.42L365.09,337.43L364.95,333.27L364.84,328.97L364.76,324.51L364.70,319.92L364.66,315.18L364.63,310.32L364.61,305.33L364.59,300.22L364.59,295.00L364.58,289.67L364.58,284.25L364.58,278.73L364.58,273.12L364.58,267.43L364.58,261.67L364.58,255.85L364.58,249.97L364.58,244.03L364.58,238.05L364.58,232.04L364.58,225.99L364.58,219.92L364.58,213.84L364.58,207.75L364.58,201.66L364.58,195.58L364.58,189.51L364.58,183.46L364.58,177.45L364.58,171.47L364.58,165.53L364.58,159.65L364.58,153.83L364.58,148.07L364.58,142.38L364.58,136.77L364.58,131.25L364.58,125.83L364.59,120.50L364.59,115.28L364.61,110.17L364.63,105.18L364.66,100.32L364.70,95.58L364.76,90.99L364.84,86.53L364.95,82.23L365.09,78.07L365.26,74.08L365.48,70.24L365.76,66.58L366.08,63.08L366.47,59.77L366.93,56.63L367.45,53.68L368.05,50.91L368.73,48.34L369.49,45.96L370.32,43.77L371.24,41.79L372.22,40.01L373.28,38.43L374.40,37.06L375.57,35.90L376.80,34.95L378.07,34.21L379.37,33.68L380.69,33.36L382.03,33.25Z" fill="#74ff28" stroke="#001800" stroke-opacity="0.52" stroke-width="0.90"/>
<path d="M382.03,64.25L382.76,64.34L383.49,64.60L384.22,65.04L384.95,65.65L385.66,66.43L386.36,67.39L387.05,68.51L387.73,69.81L388.39,71.27L389.03,72.90L389.66,74.70L390.26,76.66L390.84,78.77L391.39,81.05L391.92,83.48L392.42,86.06L392.90,88.78L393.35,91.66L393.77,94.67L394.16,97.82L394.53,101.11L394.87,104.52L395.18,108.07L395.46,111.73L395.71,115.51L395.94,119.40L396.14,123.40L396.32,127.51L396.48,131.71L396.61,136.00L396.72,140.38L396.82,144.84L396.90,149.38L396.96,153.99L397.01,158.67L397.05,163.41L397.08,168.20L397.10,173.03L397.11,177.91L397.12,182.83L397.12,187.78L397.12,192.75L397.12,197.74L397.12,202.74L397.13,207.75L397.12,212.76L397.12,217.76L397.12,222.75L397.12,227.72L397.12,232.67L397.11,237.59L397.10,242.47L397.08,247.30L397.05,252.09L397.01,256.83L396.96,261.51L396.90,266.12L396.82,270.66L396.72,275.12L396.61,279.50L396.48,283.79L396.32,287.99L396.14,292.10L395.94,296.10L395.71,299.99L395.46,303.77L395.18,307.43L394.87,310.98L394.53,314.39L394.16,317.68L393.77,320.83L393.35,323.84L392.90,326.72L392.42,329.44L391.92,332.02L391.39,334.45L390.84,336.73L390.26,338.84L389.66,340.80L389.03,342.60L388.39,344.23L387.73,345.69L387.05,346.99L386.36,348.11L385.66,349.07L384.95,349.85L384.22,350.46L383.49,350.90L382.76,351.16L382.03,351.25L382.03,351.25L381.29,351.16L380.56,350.90L379.83,350.46L379.10,349.85L378.39,349.07L377.69,348.11L377.00,346.99L376.32,345.69L375.66,344.23L375.02,342.60L374.39,340.80L373.79,338.84L373.21,336.73L372.66,334.45L372.13,332.02L371.63,329.44L371.15,326.72L370.70,323.84L370.28,320.83L369.89,317.68L369.52,314.39L369.18,310.98L368.87,307.43L368.59,303.77L368.34,299.99L368.11,296.10L367.91,292.10L367.73,287.99L367.57,283.79L367.44,279.50L367.33,275.12L367.23,270.66L367.15,266.12L367.09,261.51L367.04,256.83L367.00,252.09L366.97,247.30L366.95,242.47L366.94,237.59L366.93,232.67L366.93,227.72L366.93,222.75L366.93,217.76L366.93,212.76L366.93,207.75L366.93,202.74L366.93,197.74L366.93,192.75L366.93,187.78L366.93,182.83L366.94,177.91L366.95,173.03L366.97,168.20L367.00,163.41L367.04,158.67L367.09,153.99L367.15,149.38L367.23,144.84L367.33,140.38L367.44,136.00L367.57,131.71L367.73,127.51L367.91,123.40L368.11,119.40L368.34,115.51L368.59,111.73L368.87,108.07L369.18,104.52L369.52,101.11L369.89,97.82L370.28,94.67L370.70,91.66L371.15,88.78L371.63,86.06L372.13,83.48L372.66,81.05L373.21,78.77L373.79,76.66L374.39,74.70L375.02,72.90L375.66,71.27L376.32,69.81L377.00,68.51L377.69,67.39L378.39,66.43L379.10,65.65L379.83,65.04L380.56,64.60L381.29,64.34L382.03,64.25Z" fill="#a6ff28" stroke="#001800" stroke-opacity="0.52" stroke-width="0.90"/>
<path d="M382.03,99.25L382.50,99.32L382.97,99.51L383.45,99.84L383.92,100.31L384.38,100.90L384.84,101.62L385.30,102.47L385.75,103.45L386.19,104.56L386.62,105.79L387.05,107.15L387.46,108.63L387.87,110.23L388.26,111.95L388.65,113.79L389.02,115.74L389.37,117.80L389.72,119.97L390.05,122.25L390.36,124.63L390.67,127.12L390.95,129.70L391.22,132.38L391.48,135.15L391.71,138.01L391.94,140.95L392.14,143.98L392.33,147.08L392.51,150.25L392.67,153.50L392.81,156.81L392.94,160.19L393.05,163.62L393.15,167.11L393.24,170.64L393.31,174.22L393.37,177.84L393.42,181.50L393.45,185.19L393.48,188.91L393.50,192.65L393.51,196.41L393.52,200.18L393.52,203.96L393.53,207.75L393.52,211.54L393.52,215.32L393.51,219.09L393.50,222.85L393.48,226.59L393.45,230.31L393.42,234.00L393.37,237.66L393.31,241.28L393.24,244.86L393.15,248.39L393.05,251.88L392.94,255.31L392.81,258.69L392.67,262.00L392.51,265.25L392.33,268.42L392.14,271.52L391.94,274.55L391.71,277.49L391.48,280.35L391.22,283.12L390.95,285.80L390.67,288.38L390.36,290.87L390.05,293.25L389.72,295.53L389.37,297.70L389.02,299.76L388.65,301.71L388.26,303.55L387.87,305.27L387.46,306.87L387.05,308.35L386.62,309.71L386.19,310.94L385.75,312.05L385.30,313.03L384.84,313.88L384.38,314.60L383.92,315.19L383.45,315.66L382.97,315.99L382.50,316.18L382.03,316.25L382.03,316.25L381.55,316.18L381.08,315.99L380.60,315.66L380.13,315.19L379.67,314.60L379.21,313.88L378.75,313.03L378.30,312.05L377.86,310.94L377.43,309.71L377.00,308.35L376.59,306.87L376.18,305.27L375.79,303.55L375.40,301.71L375.03,299.76L374.68,297.70L374.33,295.53L374.00,293.25L373.69,290.87L373.38,288.38L373.10,285.80L372.83,283.12L372.57,280.35L372.34,277.49L372.11,274.55L371.91,271.52L371.72,268.42L371.54,265.25L371.38,262.00L371.24,258.69L371.11,255.31L371.00,251.88L370.90,248.39L370.81,244.86L370.74,241.28L370.68,237.66L370.63,234.00L370.60,230.31L370.57,226.59L370.55,222.85L370.54,219.09L370.53,215.32L370.53,211.54L370.53,207.75L370.53,203.96L370.53,200.18L370.54,196.41L370.55,192.65L370.57,188.91L370.60,185.19L370.63,181.50L370.68,177.84L370.74,174.22L370.81,170.64L370.90,167.11L371.00,163.62L371.11,160.19L371.24,156.81L371.38,153.50L371.54,150.25L371.72,147.08L371.91,143.98L372.11,140.95L372.34,138.01L372.57,135.15L372.83,132.38L373.10,129.70L373.38,127.12L373.69,124.63L374.00,122.25L374.33,119.97L374.68,117.80L375.03,115.74L375.40,113.79L375.79,111.95L376.18,110.23L376.59,108.63L377.00,107.15L377.43,105.79L377.86,104.56L378.30,103.45L378.75,102.47L379.21,101.62L379.67,100.90L380.13,100.31L380.60,99.84L381.08,99.51L381.55,99.32L382.03,99.25Z" fill="#d9ff28" stroke="#001800" stroke-opacity="0.52" stroke-width="0.90"/>
<path d="M382.03,146.45L382.25,146.49L382.48,146.60L382.71,146.79L382.94,147.05L383.16,147.38L383.39,147.79L383.61,148.27L383.83,148.82L384.05,149.45L384.26,150.15L384.47,150.91L384.68,151.75L384.88,152.65L385.08,153.63L385.28,154.66L385.47,155.76L385.66,156.93L385.84,158.16L386.02,159.44L386.19,160.79L386.35,162.20L386.51,163.65L386.67,165.17L386.81,166.73L386.95,168.35L387.09,170.01L387.21,171.72L387.33,173.47L387.45,175.27L387.55,177.10L387.65,178.97L387.74,180.88L387.83,182.82L387.90,184.79L387.97,186.78L388.03,188.81L388.09,190.85L388.14,192.92L388.18,195.01L388.21,197.11L388.23,199.22L388.25,201.34L388.27,203.47L388.27,205.61L388.28,207.75L388.27,209.89L388.27,212.03L388.25,214.16L388.23,216.28L388.21,218.39L388.18,220.49L388.14,222.58L388.09,224.65L388.03,226.69L387.97,228.72L387.90,230.71L387.83,232.68L387.74,234.62L387.65,236.53L387.55,238.40L387.45,240.23L387.33,242.03L387.21,243.78L387.09,245.49L386.95,247.15L386.81,248.77L386.67,250.33L386.51,251.85L386.35,253.30L386.19,254.71L386.02,256.06L385.84,257.34L385.66,258.57L385.47,259.74L385.28,260.84L385.08,261.87L384.88,262.85L384.68,263.75L384.47,264.59L384.26,265.35L384.05,266.05L383.83,266.68L383.61,267.23L383.39,267.71L383.16,268.12L382.94,268.45L382.71,268.71L382.48,268.90L382.25,269.01L382.03,269.05L382.03,269.05L381.80,269.01L381.57,268.90L381.34,268.71L381.11,268.45L380.89,268.12L380.66,267.71L380.44,267.23L380.22,266.68L380.00,266.05L379.79,265.35L379.58,264.59L379.37,263.75L379.17,262.85L378.97,261.87L378.77,260.84L378.58,259.74L378.39,258.57L378.21,257.34L378.03,256.06L377.86,254.71L377.70,253.30L377.54,251.85L377.38,250.33L377.24,248.77L377.10,247.15L376.96,245.49L376.84,243.78L376.72,242.03L376.60,240.23L376.50,238.40L376.40,236.53L376.31,234.62L376.22,232.68L376.15,230.71L376.08,228.72L376.02,226.69L375.96,224.65L375.91,222.58L375.87,220.49L375.84,218.39L375.82,216.28L375.80,214.16L375.78,212.03L375.78,209.89L375.78,207.75L375.78,205.61L375.78,203.47L375.80,201.34L375.82,199.22L375.84,197.11L375.87,195.01L375.91,192.92L375.96,190.85L376.02,188.81L376.08,186.78L376.15,184.79L376.22,182.82L376.31,180.88L376.40,178.97L376.50,177.10L376.60,175.27L376.72,173.47L376.84,171.72L376.96,170.01L377.10,168.35L377.24,166.73L377.38,165.17L377.54,163.65L377.70,162.20L377.86,160.79L378.03,159.44L378.21,158.16L378.39,156.93L378.58,155.76L378.77,154.66L378.97,153.63L379.17,152.65L379.37,151.75L379.58,150.91L379.79,150.15L380.00,149.45L380.22,148.82L380.44,148.27L380.66,147.79L380.89,147.38L381.11,147.05L381.34,146.79L381.57,146.60L381.80,146.49L382.03,146.45Z" fill="#fff228" stroke="#001800" stroke-opacity="0.52" stroke-width="0.90"/>
<rect x="401.50" y="16.40" width="40.95" height="343.80" fill="#28ff41"/>
<path d="M421.98,33.25L423.31,33.36L424.63,33.68L425.93,34.21L427.20,34.95L428.43,35.90L429.60,37.06L430.72,38.43L431.78,40.01L432.76,41.79L433.68,43.77L434.51,45.96L435.27,48.34L435.95,50.91L436.55,53.68L437.07,56.63L437.53,59.77L437.92,63.08L438.24,66.58L438.52,70.24L438.74,74.08L438.91,78.07L439.05,82.23L439.16,86.53L439.24,90.99L439.30,95.58L439.34,100.32L439.37,105.18L439.39,110.17L439.41,115.28L439.41,120.50L439.42,125.83L439.42,131.25L439.42,136.77L439.42,142.38L439.42,148.07L439.42,153.83L439.42,159.65L439.42,165.53L439.42,171.47L439.42,177.45L439.42,183.46L439.42,189.51L439.42,195.58L439.42,201.66L439.43,207.75L439.42,213.84L439.42,219.92L439.42,225.99L439.42,232.04L439.42,238.05L439.42,244.03L439.42,249.97L439.42,255.85L439.42,261.67L439.42,267.43L439.42,273.12L439.42,278.73L439.42,284.25L439.42,289.67L439.41,295.00L439.41,300.22L439.39,305.33L439.37,310.32L439.34,315.18L439.30,319.92L439.24,324.51L439.16,328.97L439.05,333.27L438.91,337.43L438.74,341.42L438.52,345.26L438.24,348.92L437.92,352.42L437.53,355.73L437.07,358.87L436.55,361.82L435.95,364.59L435.27,367.16L434.51,369.54L433.68,371.73L432.76,373.71L431.78,375.49L430.72,377.07L429.60,378.44L428.43,379.60L427.20,380.55L425.93,381.29L424.63,381.82L423.31,382.14L421.98,382.25L421.98,382.25L420.64,382.14L419.32,381.82L418.02,381.29L416.75,380.55L415.52,379.60L414.35,378.44L413.23,377.07L412.17,375.49L411.19,373.71L410.27,371.73L409.44,369.54L408.68,367.16L408.00,364.59L407.40,361.82L406.88,358.87L406.42,355.73L406.03,352.42L405.71,348.92L405.43,345.26L405.21,341.42L405.04,337.43L404.90,333.27L404.79,328.97L404.71,324.51L404.65,319.92L404.61,315.18L404.58,310.32L404.56,305.33L404.54,300.22L404.54,295.00L404.53,289.67L404.53,284.25L404.53,278.73L404.53,273.12L404.53,267.43L404.53,261.67L404.53,255.85L404.53,249.97L404.53,244.03L404.53,238.05L404.53,232.04L404.53,225.99L404.53,219.92L404.53,213.84L404.53,207.75L404.53,201.66L404.53,195.58L404.53,189.51L404.53,183.46L404.53,177.45L404.53,171.47L404.53,165.53L404.53,159.65L404.53,153.83L404.53,148.07L404.53,142.38L404.53,136.77L404.53,131.25L404.53,125.83L404.54,120.50L404.54,115.28L404.56,110.17L404.58,105.18L404.61,100.32L404.65,95.58L404.71,90.99L404.79,86.53L404.90,82.23L405.04,78.07L405.21,74.08L405.43,70.24L405.71,66.58L406.03,63.08L406.42,59.77L406.88,56.63L407.40,53.68L408.00,50.91L408.68,48.34L409.44,45.96L410.27,43.77L411.19,41.79L412.17,40.01L413.23,38.43L414.35,37.06L415.52,35.90L416.75,34.95L418.02,34.21L419.32,33.68L420.64,33.36L421.98,33.25Z" fill="#28ff74" stroke="#001800" stroke-opacity="0.52" stroke-width="0.90"/>
<path d="M421.98,64.25L422.71,64.34L423.44,64.60L424.17,65.04L424.90,65.65L425.61,66.43L426.31,67.39L427.00,68.51L427.68,69.81L428.34,71.27L428.98,72.90L429.61,74.70L430.21,76.66L430.79,78.77L431.34,81.05L431.87,83.48L432.37,86.06L432.85,88.78L433.30,91.66L433.72,94.67L434.11,97.82L434.48,101.11L434.82,104.52L435.13,108.07L435.41,111.73L435.66,115.51L435.89,119.40L436.09,123.40L436.27,127.51L436.43,131.71L436.56,136.00L436.67,140.38L436.77,144.84L436.85,149.38L436.91,153.99L436.96,158.67L437.00,163.41L437.03,168.20L437.05,173.03L437.06,177.91L437.07,182.83L437.07,187.78L437.07,192.75L437.07,197.74L437.07,202.74L437.08,207.75L437.07,212.76L437.07,217.76L437.07,222.75L437.07,227.72L437.07,232.67L437.06,237.59L437.05,242.47L437.03,247.30L437.00,252.09L436.96,256.83L436.91,261.51L436.85,266.12L436.77,270.66L436.67,275.12L436.56,279.50L436.43,283.79L436.27,287.99L436.09,292.10L435.89,296.10L435.66,299.99L435.41,303.77L435.13,307.43L434.82,310.98L434.48,314.39L434.11,317.68L433.72,320.83L433.30,323.84L432.85,326.72L432.37,329.44L431.87,332.02L431.34,334.45L430.79,336.73L430.21,338.84L429.61,340.80L428.98,342.60L428.34,344.23L427.68,345.69L427.00,346.99L426.31,348.11L425.61,349.07L424.90,349.85L424.17,350.46L423.44,350.90L422.71,351.16L421.98,351.25L421.98,351.25L421.24,351.16L420.51,350.90L419.78,350.46L419.05,349.85L418.34,349.07L417.64,348.11L416.95,346.99L416.27,345.69L415.61,344.23L414.97,342.60L414.34,340.80L413.74,338.84L413.16,336.73L412.61,334.45L412.08,332.02L411.58,329.44L411.10,326.72L410.65,323.84L410.23,320.83L409.84,317.68L409.47,314.39L409.13,310.98L408.82,307.43L408.54,303.77L408.29,299.99L408.06,296.10L407.86,292.10L407.68,287.99L407.52,283.79L407.39,279.50L407.28,275.12L407.18,270.66L407.10,266.12L407.04,261.51L406.99,256.83L406.95,252.09L406.92,247.30L406.90,242.47L406.89,237.59L406.88,232.67L406.88,227.72L406.88,222.75L406.88,217.76L406.88,212.76L406.88,207.75L406.88,202.74L406.88,197.74L406.88,192.75L406.88,187.78L406.88,182.83L406.89,177.91L406.90,173.03L406.92,168.20L406.95,163.41L406.99,158.67L407.04,153.99L407.10,149.38L407.18,144.84L407.28,140.38L407.39,136.00L407.52,131.71L407.68,127.51L407.86,123.40L408.06,119.40L408.29,115.51L408.54,111.73L408.82,108.07L409.13,104.52L409.47,101.11L409.84,97.82L410.23,94.67L410.65,91.66L411.10,88.78L411.58,86.06L412.08,83.48L412.61,81.05L413.16,78.77L413.74,76.66L414.34,74.70L414.97,72.90L415.61,71.27L416.27,69.81L416.95,68.51L417.64,67.39L418.34,66.43L419.05,65.65L419.78,65.04L420.51,64.60L421.24,64.34L421.98,64.25Z" fill="#28ffa6" stroke="#001800" stroke-opacity="0.52" stroke-width="0.90"/>
<path d="M421.98,99.25L422.45,99.32L422.92,99.51L423.40,99.84L423.87,100.31L424.33,100.90L424.79,101.62L425.25,102.47L425.70,103.45L426.14,104.56L426.57,105.79L427.00,107.15L427.41,108.63L427.82,110.23L428.21,111.95L428.60,113.79L428.97,115.74L429.32,117.80L429.67,119.97L430.00,122.25L430.31,124.63L430.62,127.12L430.90,129.70L431.17,132.38L431.43,135.15L431.66,138.01L431.89,140.95L432.09,143.98L432.28,147.08L432.46,150.25L432.62,153.50L432.76,156.81L432.89,160.19L433.00,163.62L433.10,167.11L433.19,170.64L433.26,174.22L433.32,177.84L433.37,181.50L433.40,185.19L433.43,188.91L433.45,192.65L433.46,196.41L433.47,200.18L433.47,203.96L433.48,207.75L433.47,211.54L433.47,215.32L433.46,219.09L433.45,222.85L433.43,226.59L433.40,230.31L433.37,234.00L433.32,237.66L433.26,241.28L433.19,244.86L433.10,248.39L433.00,251.88L432.89,255.31L432.76,258.69L432.62,262.00L432.46,265.25L432.28,268.42L432.09,271.52L431.89,274.55L431.66,277.49L431.43,280.35L431.17,283.12L430.90,285.80L430.62,288.38L430.31,290.87L430.00,293.25L429.67,295.53L429.32,297.70L428.97,299.76L428.60,301.71L428.21,303.55L427.82,305.27L427.41,306.87L427.00,308.35L426.57,309.71L426.14,310.94L425.70,312.05L425.25,313.03L424.79,313.88L424.33,314.60L423.87,315.19L423.40,315.66L422.92,315.99L422.45,316.18L421.98,316.25L421.98,316.25L421.50,316.18L421.03,315.99L420.55,315.66L420.08,315.19L419.62,314.60L419.16,313.88L418.70,313.03L418.25,312.05L417.81,310.94L417.38,309.71L416.95,308.35L416.54,306.87L416.13,305.27L415.74,303.55L415.35,301.71L414.98,299.76L414.63,297.70L414.28,295.53L413.95,293.25L413.64,290.87L413.33,288.38L413.05,285.80L412.78,283.12L412.52,280.35L412.29,277.49L412.06,274.55L411.86,271.52L411.67,268.42L411.49,265.25L411.33,262.00L411.19,258.69L411.06,255.31L410.95,251.88L410.85,248.39L410.76,244.86L410.69,241.28L410.63,237.66L410.58,234.00L410.55,230.31L410.52,226.59L410.50,222.85L410.49,219.09L410.48,215.32L410.48,211.54L410.48,207.75L410.48,203.96L410.48,200.18L410.49,196.41L410.50,192.65L410.52,188.91L410.55,185.19L410.58,181.50L410.63,177.84L410.69,174.22L410.76,170.64L410.85,167.11L410.95,163.62L411.06,160.19L411.19,156.81L411.33,153.50L411.49,150.25L411.67,147.08L411.86,143.98L412.06,140.95L412.29,138.01L412.52,135.15L412.78,132.38L413.05,129.70L413.33,127.12L413.64,124.63L413.95,122.25L414.28,119.97L414.63,117.80L414.98,115.74L415.35,113.79L415.74,111.95L416.13,110.23L416.54,108.63L416.95,107.15L417.38,105.79L417.81,104.56L418.25,103.45L418.70,102.47L419.16,101.62L419.62,100.90L420.08,100.31L420.55,99.84L421.03,99.51L421.50,99.32L421.98,99.25Z" fill="#28ffd9" stroke="#001800" stroke-opacity="0.52" stroke-width="0.90"/>
<path d="M421.98,146.45L422.20,146.49L422.43,146.60L422.66,146.79L422.89,147.05L423.11,147.38L423.34,147.79L423.56,148.27L423.78,148.82L424.00,149.45L424.21,150.15L424.42,150.91L424.63,151.75L424.83,152.65L425.03,153.63L425.23,154.66L425.42,155.76L425.61,156.93L425.79,158.16L425.97,159.44L426.14,160.79L426.30,162.20L426.46,163.65L426.62,165.17L426.76,166.73L426.90,168.35L427.04,170.01L427.16,171.72L427.28,173.47L427.40,175.27L427.50,177.10L427.60,178.97L427.69,180.88L427.78,182.82L427.85,184.79L427.92,186.78L427.98,188.81L428.04,190.85L428.09,192.92L428.13,195.01L428.16,197.11L428.18,199.22L428.20,201.34L428.22,203.47L428.22,205.61L428.23,207.75L428.22,209.89L428.22,212.03L428.20,214.16L428.18,216.28L428.16,218.39L428.13,220.49L428.09,222.58L428.04,224.65L427.98,226.69L427.92,228.72L427.85,230.71L427.78,232.68L427.69,234.62L427.60,236.53L427.50,238.40L427.40,240.23L427.28,242.03L427.16,243.78L427.04,245.49L426.90,247.15L426.76,248.77L426.62,250.33L426.46,251.85L426.30,253.30L426.14,254.71L425.97,256.06L425.79,257.34L425.61,258.57L425.42,259.74L425.23,260.84L425.03,261.87L424.83,262.85L424.63,263.75L424.42,264.59L424.21,265.35L424.00,266.05L423.78,266.68L423.56,267.23L423.34,267.71L423.11,268.12L422.89,268.45L422.66,268.71L422.43,268.90L422.20,269.01L421.98,269.05L421.98,269.05L421.75,269.01L421.52,268.90L421.29,268.71L421.06,268.45L420.84,268.12L420.61,267.71L420.39,267.23L420.17,266.68L419.95,266.05L419.74,265.35L419.53,264.59L419.32,263.75L419.12,262.85L418.92,261.87L418.72,260.84L418.53,259.74L418.34,258.57L418.16,257.34L417.98,256.06L417.81,254.71L417.65,253.30L417.49,251.85L417.33,250.33L417.19,248.77L417.05,247.15L416.91,245.49L416.79,243.78L416.67,242.03L416.55,240.23L416.45,238.40L416.35,236.53L416.26,234.62L416.17,232.68L416.10,230.71L416.03,228.72L415.97,226.69L415.91,224.65L415.86,222.58L415.82,220.49L415.79,218.39L415.77,216.28L415.75,214.16L415.73,212.03L415.73,209.89L415.73,207.75L415.73,205.61L415.73,203.47L415.75,201.34L415.77,199.22L415.79,197.11L415.82,195.01L415.86,192.92L415.91,190.85L415.97,188.81L416.03,186.78L416.10,184.79L416.17,182.82L416.26,180.88L416.35,178.97L416.45,177.10L416.55,175.27L416.67,173.47L416.79,171.72L416.91,170.01L417.05,168.35L417.19,166.73L417.33,165.17L417.49,163.65L417.65,162.20L417.81,160.79L417.98,159.44L418.16,158.16L418.34,156.93L418.53,155.76L418.72,154.66L418.92,153.63L419.12,152.65L419.32,151.75L419.53,150.91L419.74,150.15L419.95,149.45L420.17,148.82L420.39,148.27L420.61,147.79L420.84,147.38L421.06,147.05L421.29,146.79L421.52,146.60L421.75,146.49L421.98,146.45Z" fill="#28f2ff" stroke="#001800" stroke-opacity="0.52" stroke-width="0.90"/>
<line x1="82.40" y1="17.40" x2="82.40" y2="359.20" stroke="#001800" stroke-opacity="0.7" stroke-width="0.95"/>
<line x1="122.35" y1="17.40" x2="122.35" y2="359.20" stroke="#001800" stroke-opacity="0.7" stroke-width="0.95"/>
<line x1="162.30" y1="17.40" x2="162.30" y2="359.20" stroke="#001800" stroke-opacity="0.7" stroke-width="0.95"/>
<line x1="202.25" y1="17.40" x2="202.25" y2="359.20" stroke="#001800" stroke-opacity="0.7" stroke-width="0.95"/>
<line x1="242.20" y1="17.40" x2="242.20" y2="359.20" stroke="#001800" stroke-opacity="0.7" stroke-width="0.95"/>
<line x1="282.15" y1="17.40" x2="282.15" y2="359.20" stroke="#001800" stroke-opacity="0.7" stroke-width="0.95"/>
<line x1="322.10" y1="17.40" x2="322.10" y2="359.20" stroke="#001800" stroke-opacity="0.7" stroke-width="0.95"/>
<line x1="362.05" y1="17.40" x2="362.05" y2="359.20" stroke="#001800" stroke-opacity="0.7" stroke-width="0.95"/>
<line x1="402.00" y1="17.40" x2="402.00" y2="359.20" stroke="#001800" stroke-opacity="0.7" stroke-width="0.95"/>
<rect x="43.20" y="17.40" width="380.30" height="341.80" fill="url(#meshA)"/>
</g>
<line x1="43.20" y1="17.00" x2="43.20" y2="359.60" stroke="#1d2f1d" stroke-width="1" stroke-opacity="0.85"/>
<line x1="43.20" y1="359.20" x2="423.50" y2="359.20" stroke="#1d2f1d" stroke-width="1" stroke-opacity="0.70"/>
<line x1="43.20" y1="17.40" x2="423.50" y2="17.40" stroke="#1d2f1d" stroke-width="0.9" stroke-opacity="0.6"/>
<line x1="43.20" y1="17.40" x2="48.70" y2="17.40" stroke="#1d2f1d" stroke-width="0.8" stroke-opacity="0.85"/>
<line x1="43.20" y1="32.59" x2="45.40" y2="32.59" stroke="#1d2f1d" stroke-width="0.8" stroke-opacity="0.85"/>
<line x1="43.20" y1="47.78" x2="45.40" y2="47.78" stroke="#1d2f1d" stroke-width="0.8" stroke-opacity="0.85"/>
<line x1="43.20" y1="62.97" x2="45.40" y2="62.97" stroke="#1d2f1d" stroke-width="0.8" stroke-opacity="0.85"/>
<line x1="43.20" y1="78.16" x2="45.40" y2="78.16" stroke="#1d2f1d" stroke-width="0.8" stroke-opacity="0.85"/>
<line x1="43.20" y1="93.36" x2="48.70" y2="93.36" stroke="#1d2f1d" stroke-width="0.8" stroke-opacity="0.85"/>
<line x1="43.20" y1="108.55" x2="45.40" y2="108.55" stroke="#1d2f1d" stroke-width="0.8" stroke-opacity="0.85"/>
<line x1="43.20" y1="123.74" x2="45.40" y2="123.74" stroke="#1d2f1d" stroke-width="0.8" stroke-opacity="0.85"/>
<line x1="43.20" y1="138.93" x2="45.40" y2="138.93" stroke="#1d2f1d" stroke-width="0.8" stroke-opacity="0.85"/>
<line x1="43.20" y1="154.12" x2="45.40" y2="154.12" stroke="#1d2f1d" stroke-width="0.8" stroke-opacity="0.85"/>
<line x1="43.20" y1="169.31" x2="48.70" y2="169.31" stroke="#1d2f1d" stroke-width="0.8" stroke-opacity="0.85"/>
<line x1="43.20" y1="184.50" x2="45.40" y2="184.50" stroke="#1d2f1d" stroke-width="0.8" stroke-opacity="0.85"/>
<line x1="43.20" y1="199.69" x2="45.40" y2="199.69" stroke="#1d2f1d" stroke-width="0.8" stroke-opacity="0.85"/>
<line x1="43.20" y1="214.88" x2="45.40" y2="214.88" stroke="#1d2f1d" stroke-width="0.8" stroke-opacity="0.85"/>
<line x1="43.20" y1="230.08" x2="45.40" y2="230.08" stroke="#1d2f1d" stroke-width="0.8" stroke-opacity="0.85"/>
<line x1="43.20" y1="245.27" x2="48.70" y2="245.27" stroke="#1d2f1d" stroke-width="0.8" stroke-opacity="0.85"/>
<line x1="43.20" y1="260.46" x2="45.40" y2="260.46" stroke="#1d2f1d" stroke-width="0.8" stroke-opacity="0.85"/>
<line x1="43.20" y1="275.65" x2="45.40" y2="275.65" stroke="#1d2f1d" stroke-width="0.8" stroke-opacity="0.85"/>
<line x1="43.20" y1="290.84" x2="45.40" y2="290.84" stroke="#1d2f1d" stroke-width="0.8" stroke-opacity="0.85"/>
<line x1="43.20" y1="306.03" x2="45.40" y2="306.03" stroke="#1d2f1d" stroke-width="0.8" stroke-opacity="0.85"/>
<line x1="43.20" y1="321.22" x2="48.70" y2="321.22" stroke="#1d2f1d" stroke-width="0.8" stroke-opacity="0.85"/>
<line x1="43.20" y1="336.41" x2="45.40" y2="336.41" stroke="#1d2f1d" stroke-width="0.8" stroke-opacity="0.85"/>
<line x1="43.20" y1="351.60" x2="45.40" y2="351.60" stroke="#1d2f1d" stroke-width="0.8" stroke-opacity="0.85"/>
<line x1="43.20" y1="359.20" x2="43.20" y2="354.20" stroke="#1d2f1d" stroke-width="0.8" stroke-opacity="0.8"/>
<line x1="58.41" y1="359.20" x2="58.41" y2="357.00" stroke="#1d2f1d" stroke-width="0.8" stroke-opacity="0.8"/>
<line x1="73.62" y1="359.20" x2="73.62" y2="357.00" stroke="#1d2f1d" stroke-width="0.8" stroke-opacity="0.8"/>
<line x1="88.84" y1="359.20" x2="88.84" y2="357.00" stroke="#1d2f1d" stroke-width="0.8" stroke-opacity="0.8"/>
<line x1="104.05" y1="359.20" x2="104.05" y2="357.00" stroke="#1d2f1d" stroke-width="0.8" stroke-opacity="0.8"/>
<line x1="119.26" y1="359.20" x2="119.26" y2="354.20" stroke="#1d2f1d" stroke-width="0.8" stroke-opacity="0.8"/>
<line x1="134.47" y1="359.20" x2="134.47" y2="357.00" stroke="#1d2f1d" stroke-width="0.8" stroke-opacity="0.8"/>
<line x1="149.68" y1="359.20" x2="149.68" y2="357.00" stroke="#1d2f1d" stroke-width="0.8" stroke-opacity="0.8"/>
<line x1="164.90" y1="359.20" x2="164.90" y2="357.00" stroke="#1d2f1d" stroke-width="0.8" stroke-opacity="0.8"/>
<line x1="180.11" y1="359.20" x2="180.11" y2="357.00" stroke="#1d2f1d" stroke-width="0.8" stroke-opacity="0.8"/>
<line x1="195.32" y1="359.20" x2="195.32" y2="354.20" stroke="#1d2f1d" stroke-width="0.8" stroke-opacity="0.8"/>
<line x1="210.53" y1="359.20" x2="210.53" y2="357.00" stroke="#1d2f1d" stroke-width="0.8" stroke-opacity="0.8"/>
<line x1="225.74" y1="359.20" x2="225.74" y2="357.00" stroke="#1d2f1d" stroke-width="0.8" stroke-opacity="0.8"/>
<line x1="240.96" y1="359.20" x2="240.96" y2="357.00" stroke="#1d2f1d" stroke-width="0.8" stroke-opacity="0.8"/>
<line x1="256.17" y1="359.20" x2="256.17" y2="357.00" stroke="#1d2f1d" stroke-width="0.8" stroke-opacity="0.8"/>
<line x1="271.38" y1="359.20" x2="271.38" y2="354.20" stroke="#1d2f1d" stroke-width="0.8" stroke-opacity="0.8"/>
<line x1="286.59" y1="359.20" x2="286.59" y2="357.00" stroke="#1d2f1d" stroke-width="0.8" stroke-opacity="0.8"/>
<line x1="301.80" y1="359.20" x2="301.80" y2="357.00" stroke="#1d2f1d" stroke-width="0.8" stroke-opacity="0.8"/>
<line x1="317.02" y1="359.20" x2="317.02" y2="357.00" stroke="#1d2f1d" stroke-width="0.8" stroke-opacity="0.8"/>
<line x1="332.23" y1="359.20" x2="332.23" y2="357.00" stroke="#1d2f1d" stroke-width="0.8" stroke-opacity="0.8"/>
<line x1="347.44" y1="359.20" x2="347.44" y2="354.20" stroke="#1d2f1d" stroke-width="0.8" stroke-opacity="0.8"/>
<line x1="362.65" y1="359.20" x2="362.65" y2="357.00" stroke="#1d2f1d" stroke-width="0.8" stroke-opacity="0.8"/>
<line x1="377.86" y1="359.20" x2="377.86" y2="357.00" stroke="#1d2f1d" stroke-width="0.8" stroke-opacity="0.8"/>
<line x1="393.08" y1="359.20" x2="393.08" y2="357.00" stroke="#1d2f1d" stroke-width="0.8" stroke-opacity="0.8"/>
<line x1="408.29" y1="359.20" x2="408.29" y2="357.00" stroke="#1d2f1d" stroke-width="0.8" stroke-opacity="0.8"/>
<line x1="423.50" y1="359.20" x2="423.50" y2="354.20" stroke="#1d2f1d" stroke-width="0.8" stroke-opacity="0.8"/>
<text transform="translate(38.20 21.90) scale(0.9709 1)" font-size="13.60" text-anchor="end">1</text>
<text transform="translate(38.20 97.86) scale(0.9709 1)" font-size="13.60" text-anchor="end">0.8</text>
<text transform="translate(38.20 173.81) scale(0.9709 1)" font-size="13.60" text-anchor="end">0.6</text>
<text transform="translate(38.20 249.77) scale(0.9709 1)" font-size="13.60" text-anchor="end">0.4</text>
<text transform="translate(38.20 325.72) scale(0.9709 1)" font-size="13.60" text-anchor="end">0.2</text>
<text transform="translate(43.20 372.90) scale(0.9709 1)" font-size="13.60" text-anchor="middle">0</text>
<text transform="translate(119.26 372.90) scale(0.9709 1)" font-size="13.60" text-anchor="middle">1</text>
<text transform="translate(195.32 372.90) scale(0.9709 1)" font-size="13.60" text-anchor="middle">2</text>
<text transform="translate(271.38 372.90) scale(0.9709 1)" font-size="13.60" text-anchor="middle">3</text>
<text transform="translate(347.44 372.90) scale(0.9709 1)" font-size="13.60" text-anchor="middle">4</text>
<text transform="translate(423.50 372.90) scale(0.9709 1)" font-size="13.60" text-anchor="middle">5</text>
<text x="8.9" y="22.5" font-size="15.6">(a)</text>
<text x="17.3" y="149.3" font-size="14" font-style="italic" text-anchor="middle">Z</text>
<text x="237.7" y="378.8" font-size="14" font-style="italic" text-anchor="middle">X</text>
<path d="M68.8,193.8 L71.9,207.3 L66.0,207.3 Z" fill="#000"/>
<path d="M106.7,194.2 L112.4,194.2 L109.5,207.2 Z" fill="#000"/>
<rect x="404.80" y="17.40" width="18.80" height="7.75" fill="#ff0000"/>
<rect x="404.80" y="24.85" width="18.80" height="15.20" fill="#ff3c00"/>
<rect x="404.80" y="39.75" width="18.80" height="15.20" fill="#ff7800"/>
<rect x="404.80" y="54.65" width="18.80" height="15.20" fill="#ffb400"/>
<rect x="404.80" y="69.55" width="18.80" height="15.20" fill="#fff000"/>
<rect x="404.80" y="84.45" width="18.80" height="15.20" fill="#d2ff00"/>
<rect x="404.80" y="99.35" width="18.80" height="15.20" fill="#96ff00"/>
<rect x="404.80" y="114.25" width="18.80" height="15.20" fill="#5aff00"/>
<rect x="404.80" y="129.15" width="18.80" height="15.20" fill="#1eff00"/>
<rect x="404.80" y="144.05" width="18.80" height="15.20" fill="#00ff1e"/>
<rect x="404.80" y="158.95" width="18.80" height="15.20" fill="#00ff5a"/>
<rect x="404.80" y="173.85" width="18.80" height="15.20" fill="#00ff96"/>
<rect x="404.80" y="188.75" width="18.80" height="15.20" fill="#00ffd2"/>
<rect x="404.80" y="203.65" width="18.80" height="15.20" fill="#00f0ff"/>
<rect x="404.80" y="218.55" width="18.80" height="15.20" fill="#00b4ff"/>
<rect x="404.80" y="233.45" width="18.80" height="15.20" fill="#0078ff"/>
<rect x="404.80" y="248.35" width="18.80" height="15.20" fill="#003cff"/>
<rect x="404.80" y="263.25" width="18.80" height="7.75" fill="#0000ff"/>
<line x1="404.80" y1="24.85" x2="423.60" y2="24.85" stroke="#1a1208" stroke-width="0.85" stroke-opacity="0.45"/>
<text transform="translate(478.00 29.45) scale(0.9390 1)" font-size="13.42" text-anchor="end">8731.00</text>
<line x1="404.80" y1="39.75" x2="423.60" y2="39.75" stroke="#1a1208" stroke-width="0.85" stroke-opacity="0.45"/>
<text transform="translate(478.00 44.35) scale(0.9390 1)" font-size="13.42" text-anchor="end">6236.00</text>
<line x1="404.80" y1="54.65" x2="423.60" y2="54.65" stroke="#1a1208" stroke-width="0.85" stroke-opacity="0.45"/>
<text transform="translate(478.00 59.25) scale(0.9390 1)" font-size="13.42" text-anchor="end">3742.00</text>
<line x1="404.80" y1="69.55" x2="423.60" y2="69.55" stroke="#1a1208" stroke-width="0.85" stroke-opacity="0.45"/>
<text transform="translate(478.00 74.15) scale(0.9390 1)" font-size="13.42" text-anchor="end">1248.00</text>
<line x1="404.80" y1="84.45" x2="423.60" y2="84.45" stroke="#1a1208" stroke-width="0.85" stroke-opacity="0.45"/>
<text transform="translate(478.00 89.05) scale(0.9390 1)" font-size="13.42" text-anchor="end">0.10</text>
<line x1="404.80" y1="99.35" x2="423.60" y2="99.35" stroke="#1a1208" stroke-width="0.85" stroke-opacity="0.45"/>
<text transform="translate(478.00 103.95) scale(0.9390 1)" font-size="13.42" text-anchor="end">0.07</text>
<line x1="404.80" y1="114.25" x2="423.60" y2="114.25" stroke="#1a1208" stroke-width="0.85" stroke-opacity="0.45"/>
<text transform="translate(478.00 118.85) scale(0.9390 1)" font-size="13.42" text-anchor="end">0.04</text>
<line x1="404.80" y1="129.15" x2="423.60" y2="129.15" stroke="#1a1208" stroke-width="0.85" stroke-opacity="0.45"/>
<text transform="translate(478.00 133.75) scale(0.9390 1)" font-size="13.42" text-anchor="end">0.01</text>
<line x1="404.80" y1="144.05" x2="423.60" y2="144.05" stroke="#1a1208" stroke-width="0.85" stroke-opacity="0.45"/>
<text transform="translate(478.00 148.65) scale(0.9390 1)" font-size="13.42" text-anchor="end">0.00</text>
<line x1="404.80" y1="158.95" x2="423.60" y2="158.95" stroke="#1a1208" stroke-width="0.85" stroke-opacity="0.45"/>
<text transform="translate(478.00 163.55) scale(0.9390 1)" font-size="13.42" text-anchor="end">-0.01</text>
<line x1="404.80" y1="173.85" x2="423.60" y2="173.85" stroke="#1a1208" stroke-width="0.85" stroke-opacity="0.45"/>
<text transform="translate(478.00 178.45) scale(0.9390 1)" font-size="13.42" text-anchor="end">-0.04</text>
<line x1="404.80" y1="188.75" x2="423.60" y2="188.75" stroke="#1a1208" stroke-width="0.85" stroke-opacity="0.45"/>
<text transform="translate(478.00 193.35) scale(0.9390 1)" font-size="13.42" text-anchor="end">-0.07</text>
<line x1="404.80" y1="203.65" x2="423.60" y2="203.65" stroke="#1a1208" stroke-width="0.85" stroke-opacity="0.45"/>
<text transform="translate(478.00 208.25) scale(0.9390 1)" font-size="13.42" text-anchor="end">-0.10</text>
<line x1="404.80" y1="218.55" x2="423.60" y2="218.55" stroke="#1a1208" stroke-width="0.85" stroke-opacity="0.45"/>
<text transform="translate(478.00 223.15) scale(0.9390 1)" font-size="13.42" text-anchor="end">-1248.00</text>
<line x1="404.80" y1="233.45" x2="423.60" y2="233.45" stroke="#1a1208" stroke-width="0.85" stroke-opacity="0.45"/>
<text transform="translate(478.00 238.05) scale(0.9390 1)" font-size="13.42" text-anchor="end">-3742.00</text>
<line x1="404.80" y1="248.35" x2="423.60" y2="248.35" stroke="#1a1208" stroke-width="0.85" stroke-opacity="0.45"/>
<text transform="translate(478.00 252.95) scale(0.9390 1)" font-size="13.42" text-anchor="end">-6236.00</text>
<line x1="404.80" y1="263.25" x2="423.60" y2="263.25" stroke="#1a1208" stroke-width="0.85" stroke-opacity="0.45"/>
<text transform="translate(478.00 267.85) scale(0.9390 1)" font-size="13.42" text-anchor="end">-8731.00</text>
<line x1="404.80" y1="17.40" x2="404.80" y2="270.70" stroke="#1c2c1c" stroke-width="0.9" stroke-opacity="0.8"/>
<line x1="423.60" y1="17.40" x2="423.60" y2="270.70" stroke="#402010" stroke-width="0.8" stroke-opacity="0.35"/>
<line x1="404.80" y1="17.40" x2="423.60" y2="17.40" stroke="#402010" stroke-width="0.8" stroke-opacity="0.35"/>
<g clip-path="url(#clipB)">
<rect x="591.40" y="17.00" width="377.30" height="24.90" fill="#28ffd4"/>
<rect x="591.40" y="41.40" width="377.30" height="47.60" fill="#28ffa9"/>
<rect x="591.40" y="88.50" width="377.30" height="47.50" fill="#28ff7e"/>
<rect x="591.40" y="135.50" width="377.30" height="49.60" fill="#28ff53"/>
<rect x="591.40" y="184.60" width="377.30" height="45.20" fill="#28ff28"/>
<rect x="591.40" y="229.30" width="377.30" height="49.50" fill="#53ff28"/>
<rect x="591.40" y="278.30" width="377.30" height="45.60" fill="#7eff28"/>
<rect x="591.40" y="323.40" width="377.30" height="34.30" fill="#a9ff28"/>
<line x1="592.40" y1="41.40" x2="967.70" y2="41.40" stroke="#001800" stroke-opacity="0.52" stroke-width="0.90"/>
<line x1="592.40" y1="88.50" x2="967.70" y2="88.50" stroke="#001800" stroke-opacity="0.52" stroke-width="0.90"/>
<line x1="592.40" y1="135.50" x2="967.70" y2="135.50" stroke="#001800" stroke-opacity="0.52" stroke-width="0.90"/>
<line x1="592.40" y1="184.60" x2="967.70" y2="184.60" stroke="#001800" stroke-opacity="0.52" stroke-width="0.90"/>
<line x1="592.40" y1="229.30" x2="967.70" y2="229.30" stroke="#001800" stroke-opacity="0.52" stroke-width="0.90"/>
<line x1="592.40" y1="278.30" x2="967.70" y2="278.30" stroke="#001800" stroke-opacity="0.52" stroke-width="0.90"/>
<line x1="592.40" y1="323.40" x2="967.70" y2="323.40" stroke="#001800" stroke-opacity="0.52" stroke-width="0.90"/>
<rect x="592.40" y="18.00" width="375.30" height="338.20" fill="url(#meshB)"/>
</g>
<line x1="592.40" y1="17.60" x2="592.40" y2="356.60" stroke="#243a30" stroke-width="1" stroke-opacity="0.60"/>
<line x1="592.40" y1="356.20" x2="967.70" y2="356.20" stroke="#243a30" stroke-width="1" stroke-opacity="0.45"/>
<line x1="592.40" y1="18.00" x2="967.70" y2="18.00" stroke="#243a30" stroke-width="0.9" stroke-opacity="0.6"/>
<line x1="592.40" y1="33.03" x2="594.60" y2="33.03" stroke="#243a30" stroke-width="0.8" stroke-opacity="0.85"/>
<line x1="592.40" y1="48.06" x2="594.60" y2="48.06" stroke="#243a30" stroke-width="0.8" stroke-opacity="0.85"/>
<line x1="592.40" y1="63.09" x2="594.60" y2="63.09" stroke="#243a30" stroke-width="0.8" stroke-opacity="0.85"/>
<line x1="592.40" y1="78.12" x2="594.60" y2="78.12" stroke="#243a30" stroke-width="0.8" stroke-opacity="0.85"/>
<line x1="592.40" y1="93.16" x2="597.90" y2="93.16" stroke="#243a30" stroke-width="0.8" stroke-opacity="0.85"/>
<line x1="592.40" y1="108.19" x2="594.60" y2="108.19" stroke="#243a30" stroke-width="0.8" stroke-opacity="0.85"/>
<line x1="592.40" y1="123.22" x2="594.60" y2="123.22" stroke="#243a30" stroke-width="0.8" stroke-opacity="0.85"/>
<line x1="592.40" y1="138.25" x2="594.60" y2="138.25" stroke="#243a30" stroke-width="0.8" stroke-opacity="0.85"/>
<line x1="592.40" y1="153.28" x2="594.60" y2="153.28" stroke="#243a30" stroke-width="0.8" stroke-opacity="0.85"/>
<line x1="592.40" y1="168.31" x2="597.90" y2="168.31" stroke="#243a30" stroke-width="0.8" stroke-opacity="0.85"/>
<line x1="592.40" y1="183.34" x2="594.60" y2="183.34" stroke="#243a30" stroke-width="0.8" stroke-opacity="0.85"/>
<line x1="592.40" y1="198.37" x2="594.60" y2="198.37" stroke="#243a30" stroke-width="0.8" stroke-opacity="0.85"/>
<line x1="592.40" y1="213.40" x2="594.60" y2="213.40" stroke="#243a30" stroke-width="0.8" stroke-opacity="0.85"/>
<line x1="592.40" y1="228.44" x2="594.60" y2="228.44" stroke="#243a30" stroke-width="0.8" stroke-opacity="0.85"/>
<line x1="592.40" y1="243.47" x2="597.90" y2="243.47" stroke="#243a30" stroke-width="0.8" stroke-opacity="0.85"/>
<line x1="592.40" y1="258.50" x2="594.60" y2="258.50" stroke="#243a30" stroke-width="0.8" stroke-opacity="0.85"/>
<line x1="592.40" y1="273.53" x2="594.60" y2="273.53" stroke="#243a30" stroke-width="0.8" stroke-opacity="0.85"/>
<line x1="592.40" y1="288.56" x2="594.60" y2="288.56" stroke="#243a30" stroke-width="0.8" stroke-opacity="0.85"/>
<line x1="592.40" y1="303.59" x2="594.60" y2="303.59" stroke="#243a30" stroke-width="0.8" stroke-opacity="0.85"/>
<line x1="592.40" y1="318.62" x2="597.90" y2="318.62" stroke="#243a30" stroke-width="0.8" stroke-opacity="0.85"/>
<line x1="592.40" y1="333.65" x2="594.60" y2="333.65" stroke="#243a30" stroke-width="0.8" stroke-opacity="0.85"/>
<line x1="592.40" y1="348.68" x2="594.60" y2="348.68" stroke="#243a30" stroke-width="0.8" stroke-opacity="0.85"/>
<line x1="592.40" y1="356.20" x2="592.40" y2="351.20" stroke="#243a30" stroke-width="0.8" stroke-opacity="0.8"/>
<line x1="607.41" y1="356.20" x2="607.41" y2="354.00" stroke="#243a30" stroke-width="0.8" stroke-opacity="0.8"/>
<line x1="622.42" y1="356.20" x2="622.42" y2="354.00" stroke="#243a30" stroke-width="0.8" stroke-opacity="0.8"/>
<line x1="637.44" y1="356.20" x2="637.44" y2="354.00" stroke="#243a30" stroke-width="0.8" stroke-opacity="0.8"/>
<line x1="652.45" y1="356.20" x2="652.45" y2="354.00" stroke="#243a30" stroke-width="0.8" stroke-opacity="0.8"/>
<line x1="667.46" y1="356.20" x2="667.46" y2="351.20" stroke="#243a30" stroke-width="0.8" stroke-opacity="0.8"/>
<line x1="682.47" y1="356.20" x2="682.47" y2="354.00" stroke="#243a30" stroke-width="0.8" stroke-opacity="0.8"/>
<line x1="697.48" y1="356.20" x2="697.48" y2="354.00" stroke="#243a30" stroke-width="0.8" stroke-opacity="0.8"/>
<line x1="712.50" y1="356.20" x2="712.50" y2="354.00" stroke="#243a30" stroke-width="0.8" stroke-opacity="0.8"/>
<line x1="727.51" y1="356.20" x2="727.51" y2="354.00" stroke="#243a30" stroke-width="0.8" stroke-opacity="0.8"/>
<line x1="742.52" y1="356.20" x2="742.52" y2="351.20" stroke="#243a30" stroke-width="0.8" stroke-opacity="0.8"/>
<line x1="757.53" y1="356.20" x2="757.53" y2="354.00" stroke="#243a30" stroke-width="0.8" stroke-opacity="0.8"/>
<line x1="772.54" y1="356.20" x2="772.54" y2="354.00" stroke="#243a30" stroke-width="0.8" stroke-opacity="0.8"/>
<line x1="787.56" y1="356.20" x2="787.56" y2="354.00" stroke="#243a30" stroke-width="0.8" stroke-opacity="0.8"/>
<line x1="802.57" y1="356.20" x2="802.57" y2="354.00" stroke="#243a30" stroke-width="0.8" stroke-opacity="0.8"/>
<line x1="817.58" y1="356.20" x2="817.58" y2="351.20" stroke="#243a30" stroke-width="0.8" stroke-opacity="0.8"/>
<line x1="832.59" y1="356.20" x2="832.59" y2="354.00" stroke="#243a30" stroke-width="0.8" stroke-opacity="0.8"/>
<line x1="847.60" y1="356.20" x2="847.60" y2="354.00" stroke="#243a30" stroke-width="0.8" stroke-opacity="0.8"/>
<line x1="862.62" y1="356.20" x2="862.62" y2="354.00" stroke="#243a30" stroke-width="0.8" stroke-opacity="0.8"/>
<line x1="877.63" y1="356.20" x2="877.63" y2="354.00" stroke="#243a30" stroke-width="0.8" stroke-opacity="0.8"/>
<line x1="892.64" y1="356.20" x2="892.64" y2="351.20" stroke="#243a30" stroke-width="0.8" stroke-opacity="0.8"/>
<line x1="907.65" y1="356.20" x2="907.65" y2="354.00" stroke="#243a30" stroke-width="0.8" stroke-opacity="0.8"/>
<line x1="922.66" y1="356.20" x2="922.66" y2="354.00" stroke="#243a30" stroke-width="0.8" stroke-opacity="0.8"/>
<line x1="937.68" y1="356.20" x2="937.68" y2="354.00" stroke="#243a30" stroke-width="0.8" stroke-opacity="0.8"/>
<line x1="952.69" y1="356.20" x2="952.69" y2="354.00" stroke="#243a30" stroke-width="0.8" stroke-opacity="0.8"/>
<line x1="967.70" y1="356.20" x2="967.70" y2="351.20" stroke="#243a30" stroke-width="0.8" stroke-opacity="0.8"/>
<text transform="translate(587.00 22.50) scale(0.9709 1)" font-size="13.60" text-anchor="end">1</text>
<text transform="translate(587.00 97.66) scale(0.9709 1)" font-size="13.60" text-anchor="end">0.8</text>
<text transform="translate(587.00 172.81) scale(0.9709 1)" font-size="13.60" text-anchor="end">0.6</text>
<text transform="translate(587.00 247.97) scale(0.9709 1)" font-size="13.60" text-anchor="end">0.4</text>
<text transform="translate(587.00 323.12) scale(0.9709 1)" font-size="13.60" text-anchor="end">0.2</text>
<text transform="translate(592.40 369.80) scale(0.9709 1)" font-size="13.60" text-anchor="middle">0</text>
<text transform="translate(667.46 369.80) scale(0.9709 1)" font-size="13.60" text-anchor="middle">1</text>
<text transform="translate(742.52 369.80) scale(0.9709 1)" font-size="13.60" text-anchor="middle">2</text>
<text transform="translate(817.58 369.80) scale(0.9709 1)" font-size="13.60" text-anchor="middle">3</text>
<text transform="translate(892.64 369.80) scale(0.9709 1)" font-size="13.60" text-anchor="middle">4</text>
<text transform="translate(967.70 369.80) scale(0.9709 1)" font-size="13.60" text-anchor="middle">5</text>
<text x="557.5" y="22.4" font-size="15.6">(b)</text>
<text x="569.2" y="140.3" font-size="14" font-style="italic" text-anchor="middle">Z</text>
<text x="782" y="373.9" font-size="14" font-style="italic" text-anchor="middle">X</text>
<rect x="967.00" y="17.72" width="18.30" height="7.69" fill="#ff0000"/>
<rect x="967.00" y="25.11" width="18.30" height="15.08" fill="#ff3300"/>
<rect x="967.00" y="39.89" width="18.30" height="15.08" fill="#ff6600"/>
<rect x="967.00" y="54.67" width="18.30" height="15.08" fill="#ff9900"/>
<rect x="967.00" y="69.45" width="18.30" height="15.08" fill="#ffcc00"/>
<rect x="967.00" y="84.23" width="18.30" height="15.08" fill="#ffff00"/>
<rect x="967.00" y="99.01" width="18.30" height="15.08" fill="#ccff00"/>
<rect x="967.00" y="113.79" width="18.30" height="15.08" fill="#99ff00"/>
<rect x="967.00" y="128.57" width="18.30" height="15.08" fill="#66ff00"/>
<rect x="967.00" y="143.35" width="18.30" height="15.08" fill="#33ff00"/>
<rect x="967.00" y="158.13" width="18.30" height="15.08" fill="#00ff00"/>
<rect x="967.00" y="172.91" width="18.30" height="15.08" fill="#00ff33"/>
<rect x="967.00" y="187.69" width="18.30" height="15.08" fill="#00ff66"/>
<rect x="967.00" y="202.47" width="18.30" height="15.08" fill="#00ff99"/>
<rect x="967.00" y="217.25" width="18.30" height="15.08" fill="#00ffcc"/>
<rect x="967.00" y="232.03" width="18.30" height="15.08" fill="#00ffff"/>
<rect x="967.00" y="246.81" width="18.30" height="15.08" fill="#00ccff"/>
<rect x="967.00" y="261.59" width="18.30" height="15.08" fill="#0099ff"/>
<rect x="967.00" y="276.37" width="18.30" height="15.08" fill="#0066ff"/>
<rect x="967.00" y="291.15" width="18.30" height="15.08" fill="#0033ff"/>
<rect x="967.00" y="305.93" width="18.30" height="7.69" fill="#0000ff"/>
<line x1="967.00" y1="25.11" x2="985.30" y2="25.11" stroke="#402000" stroke-width="0.85" stroke-opacity="0.25"/>
<text transform="translate(1020.30 30.21) scale(0.9390 1)" font-size="13.42" text-anchor="end">9.25</text>
<line x1="967.00" y1="39.89" x2="985.30" y2="39.89" stroke="#402000" stroke-width="0.85" stroke-opacity="0.25"/>
<text transform="translate(1020.30 44.99) scale(0.9390 1)" font-size="13.42" text-anchor="end">8.00</text>
<line x1="967.00" y1="54.67" x2="985.30" y2="54.67" stroke="#402000" stroke-width="0.85" stroke-opacity="0.25"/>
<text transform="translate(1020.30 59.77) scale(0.9390 1)" font-size="13.42" text-anchor="end">6.75</text>
<line x1="967.00" y1="69.45" x2="985.30" y2="69.45" stroke="#402000" stroke-width="0.85" stroke-opacity="0.25"/>
<text transform="translate(1020.30 74.55) scale(0.9390 1)" font-size="13.42" text-anchor="end">5.50</text>
<line x1="967.00" y1="84.23" x2="985.30" y2="84.23" stroke="#402000" stroke-width="0.85" stroke-opacity="0.25"/>
<text transform="translate(1020.30 89.33) scale(0.9390 1)" font-size="13.42" text-anchor="end">4.25</text>
<line x1="967.00" y1="99.01" x2="985.30" y2="99.01" stroke="#402000" stroke-width="0.85" stroke-opacity="0.25"/>
<text transform="translate(1020.30 104.11) scale(0.9390 1)" font-size="13.42" text-anchor="end">1.75</text>
<line x1="967.00" y1="113.79" x2="985.30" y2="113.79" stroke="#402000" stroke-width="0.85" stroke-opacity="0.25"/>
<text transform="translate(1020.30 118.89) scale(0.9390 1)" font-size="13.42" text-anchor="end">-0.06</text>
<line x1="967.00" y1="128.57" x2="985.30" y2="128.57" stroke="#402000" stroke-width="0.85" stroke-opacity="0.25"/>
<text transform="translate(1020.30 133.67) scale(0.9390 1)" font-size="13.42" text-anchor="end">-0.19</text>
<line x1="967.00" y1="143.35" x2="985.30" y2="143.35" stroke="#402000" stroke-width="0.85" stroke-opacity="0.25"/>
<text transform="translate(1020.30 148.45) scale(0.9390 1)" font-size="13.42" text-anchor="end">-0.31</text>
<line x1="967.00" y1="158.13" x2="985.30" y2="158.13" stroke="#402000" stroke-width="0.85" stroke-opacity="0.25"/>
<text transform="translate(1020.30 163.23) scale(0.9390 1)" font-size="13.42" text-anchor="end">-0.44</text>
<line x1="967.00" y1="172.91" x2="985.30" y2="172.91" stroke="#402000" stroke-width="0.85" stroke-opacity="0.25"/>
<text transform="translate(1020.30 178.01) scale(0.9390 1)" font-size="13.42" text-anchor="end">-0.56</text>
<line x1="967.00" y1="187.69" x2="985.30" y2="187.69" stroke="#402000" stroke-width="0.85" stroke-opacity="0.25"/>
<text transform="translate(1020.30 192.79) scale(0.9390 1)" font-size="13.42" text-anchor="end">-0.69</text>
<line x1="967.00" y1="202.47" x2="985.30" y2="202.47" stroke="#402000" stroke-width="0.85" stroke-opacity="0.25"/>
<text transform="translate(1020.30 207.57) scale(0.9390 1)" font-size="13.42" text-anchor="end">-0.81</text>
<line x1="967.00" y1="217.25" x2="985.30" y2="217.25" stroke="#402000" stroke-width="0.85" stroke-opacity="0.25"/>
<text transform="translate(1020.30 222.35) scale(0.9390 1)" font-size="13.42" text-anchor="end">-0.94</text>
<line x1="967.00" y1="232.03" x2="985.30" y2="232.03" stroke="#402000" stroke-width="0.85" stroke-opacity="0.25"/>
<text transform="translate(1020.30 237.13) scale(0.9390 1)" font-size="13.42" text-anchor="end">-1.75</text>
<line x1="967.00" y1="246.81" x2="985.30" y2="246.81" stroke="#402000" stroke-width="0.85" stroke-opacity="0.25"/>
<text transform="translate(1020.30 251.91) scale(0.9390 1)" font-size="13.42" text-anchor="end">-4.25</text>
<line x1="967.00" y1="261.59" x2="985.30" y2="261.59" stroke="#402000" stroke-width="0.85" stroke-opacity="0.25"/>
<text transform="translate(1020.30 266.69) scale(0.9390 1)" font-size="13.42" text-anchor="end">-5.50</text>
<line x1="967.00" y1="276.37" x2="985.30" y2="276.37" stroke="#402000" stroke-width="0.85" stroke-opacity="0.25"/>
<text transform="translate(1020.30 281.47) scale(0.9390 1)" font-size="13.42" text-anchor="end">-6.75</text>
<line x1="967.00" y1="291.15" x2="985.30" y2="291.15" stroke="#402000" stroke-width="0.85" stroke-opacity="0.25"/>
<text transform="translate(1020.30 296.25) scale(0.9390 1)" font-size="13.42" text-anchor="end">-8.00</text>
<line x1="967.00" y1="305.93" x2="985.30" y2="305.93" stroke="#402000" stroke-width="0.85" stroke-opacity="0.25"/>
<text transform="translate(1020.30 311.03) scale(0.9390 1)" font-size="13.42" text-anchor="end">-9.25</text>
</svg></body></html>
